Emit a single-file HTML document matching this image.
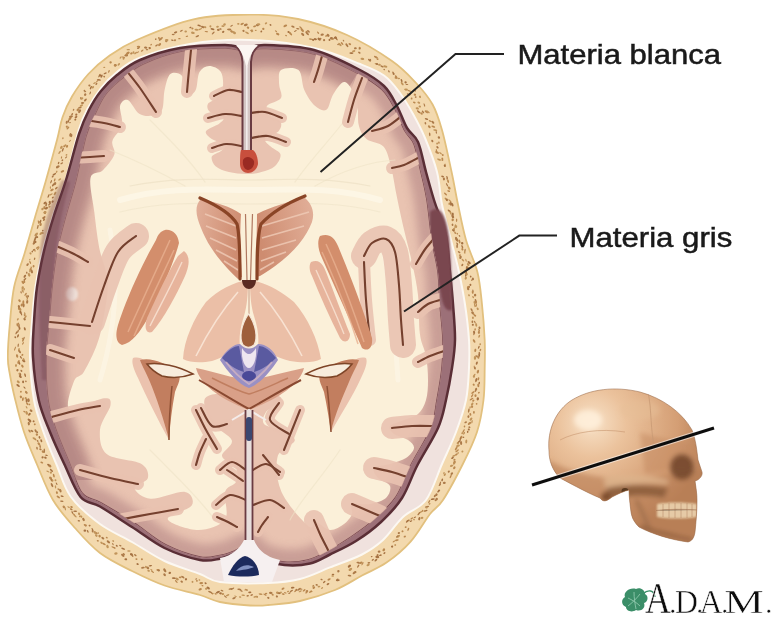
<!DOCTYPE html>
<html><head><meta charset="utf-8">
<style>
html,body{margin:0;padding:0;background:#fff;}
body{width:775px;height:620px;overflow:hidden;position:relative;}
svg{position:absolute;left:0;top:0;}
</style></head>
<body>
<svg width="775" height="620" viewBox="0 0 775 620">
<defs>
<pattern id="speck" width="14" height="10" patternUnits="userSpaceOnUse">
<rect width="14" height="10" fill="#F2D9A6"/>
<ellipse cx="3" cy="3" rx="1.6" ry="1" fill="#B98B4E"/>
<ellipse cx="10" cy="7" rx="1.4" ry="0.9" fill="#C09050"/>
</pattern>
</defs>
<rect width="775" height="620" fill="#fff"/>
<filter id="soft" x="0" y="0" width="100%" height="100%"><feGaussianBlur stdDeviation="0.6"/></filter>
<g filter="url(#soft)">
<path d="M250.0,14.5 C267.4,14.4 281.8,15.6 298.0,19.0 C314.2,22.4 331.3,28.0 347.0,35.0 C362.7,42.0 380.4,52.9 392.0,61.0 C403.6,69.1 409.7,76.2 416.5,83.5 C423.3,90.8 428.4,96.8 432.6,104.5 C436.9,112.2 438.8,118.8 442.0,130.0 C445.2,141.2 448.9,159.6 451.6,172.0 C454.3,184.4 455.6,193.2 458.0,204.5 C460.4,215.8 462.8,228.8 466.0,240.0 C469.2,251.2 474.7,261.2 477.4,272.0 C480.1,282.8 480.8,293.2 482.0,304.5 C483.2,315.8 484.2,329.4 484.7,340.0 C485.1,350.6 484.9,358.0 484.7,368.0 C484.5,378.0 484.8,389.3 483.5,400.0 C482.2,410.7 480.5,421.2 477.0,432.0 C473.5,442.8 468.3,453.2 462.6,464.5 C456.9,475.8 448.4,491.8 443.0,500.0 C437.6,508.2 435.4,507.1 430.0,514.0 C424.6,520.9 417.9,533.5 410.6,541.6 C403.4,549.7 394.6,557.0 386.5,562.6 C378.4,568.2 370.6,570.9 362.0,575.5 C353.4,580.1 345.3,585.8 335.0,590.0 C324.7,594.2 311.2,598.5 300.0,601.0 C288.8,603.5 276.3,604.2 268.0,605.0 C259.7,605.8 258.0,606.0 250.0,605.5 C242.0,605.0 228.3,603.8 220.0,602.0 C211.7,600.2 209.2,597.8 200.0,595.0 C190.8,592.2 175.8,589.5 164.5,585.5 C153.2,581.5 142.8,576.4 132.0,571.0 C121.2,565.6 109.5,560.2 100.0,553.0 C90.5,545.8 82.8,536.8 75.0,528.0 C67.2,519.2 59.3,510.6 53.0,500.0 C46.7,489.4 41.8,475.8 37.0,464.5 C32.2,453.2 27.6,442.8 24.0,432.0 C20.4,421.2 17.6,409.5 15.3,400.0 C13.0,390.5 11.2,382.2 10.0,375.0 C8.8,367.8 7.8,365.8 7.8,357.0 C7.8,348.2 8.9,333.8 10.0,322.0 C11.1,310.2 11.8,297.8 14.2,286.5 C16.6,275.2 20.8,265.8 24.4,254.0 C27.9,242.2 32.0,227.5 35.5,215.5 C39.0,203.5 41.9,194.6 45.5,182.0 C49.1,169.4 54.1,150.8 57.0,140.0 C59.9,129.2 60.1,124.2 62.6,117.0 C65.1,109.8 67.7,103.7 72.0,96.5 C76.3,89.3 82.2,80.8 88.4,74.0 C94.6,67.2 100.9,61.7 109.0,56.0 C117.1,50.3 122.7,46.1 136.8,40.0 C150.9,33.9 174.6,23.6 193.5,19.4 C212.4,15.1 232.6,14.6 250.0,14.5Z" fill="#F3D9AE" stroke="#E2C07E" stroke-width="1.8"/>
<g opacity="0.85"><ellipse cx="471.6" cy="309.7" rx="1.6" ry="0.8" transform="rotate(56 471.6 309.7)" fill="#A06A38"/>
<ellipse cx="472.6" cy="312.7" rx="1.6" ry="1.2" transform="rotate(55 472.6 312.7)" fill="#A06A38"/>
<ellipse cx="473.9" cy="314.4" rx="2.0" ry="0.8" transform="rotate(55 473.9 314.4)" fill="#B07A40"/>
<ellipse cx="475.3" cy="315.8" rx="1.0" ry="0.9" transform="rotate(106 475.3 315.8)" fill="#B07A40"/>
<ellipse cx="472.9" cy="317.7" rx="1.3" ry="1.0" transform="rotate(86 472.9 317.7)" fill="#B8884C"/>
<ellipse cx="472.4" cy="321.8" rx="1.3" ry="0.9" transform="rotate(93 472.4 321.8)" fill="#A06A38"/>
<ellipse cx="474.9" cy="322.2" rx="1.5" ry="0.6" transform="rotate(65 474.9 322.2)" fill="#A06A38"/>
<ellipse cx="476.2" cy="324.9" rx="1.8" ry="1.0" transform="rotate(79 476.2 324.9)" fill="#B8884C"/>
<ellipse cx="472.8" cy="324.8" rx="1.0" ry="1.0" transform="rotate(110 472.8 324.8)" fill="#986030"/>
<ellipse cx="479.5" cy="327.8" rx="1.4" ry="1.0" transform="rotate(77 479.5 327.8)" fill="#A06A38"/>
<ellipse cx="475.1" cy="329.5" rx="1.2" ry="0.8" transform="rotate(94 475.1 329.5)" fill="#B07A40"/>
<ellipse cx="479.1" cy="330.3" rx="1.4" ry="0.8" transform="rotate(68 479.1 330.3)" fill="#B07A40"/>
<ellipse cx="478.9" cy="332.5" rx="1.4" ry="1.1" transform="rotate(89 478.9 332.5)" fill="#B07A40"/>
<ellipse cx="474.1" cy="332.3" rx="1.5" ry="1.0" transform="rotate(74 474.1 332.3)" fill="#986030"/>
<ellipse cx="474.0" cy="333.9" rx="1.3" ry="0.7" transform="rotate(105 474.0 333.9)" fill="#A06A38"/>
<ellipse cx="479.2" cy="336.3" rx="1.6" ry="0.8" transform="rotate(111 479.2 336.3)" fill="#B8884C"/>
<ellipse cx="474.1" cy="341.0" rx="2.0" ry="1.0" transform="rotate(60 474.1 341.0)" fill="#B07A40"/>
<ellipse cx="480.2" cy="344.2" rx="1.0" ry="0.9" transform="rotate(96 480.2 344.2)" fill="#B8884C"/>
<ellipse cx="478.8" cy="347.2" rx="1.6" ry="0.7" transform="rotate(114 478.8 347.2)" fill="#986030"/>
<ellipse cx="480.4" cy="350.0" rx="1.2" ry="0.8" transform="rotate(115 480.4 350.0)" fill="#B07A40"/>
<ellipse cx="475.3" cy="350.3" rx="1.7" ry="1.0" transform="rotate(100 475.3 350.3)" fill="#B07A40"/>
<ellipse cx="479.4" cy="353.4" rx="1.6" ry="0.8" transform="rotate(79 479.4 353.4)" fill="#A06A38"/>
<ellipse cx="479.2" cy="355.2" rx="1.7" ry="0.8" transform="rotate(77 479.2 355.2)" fill="#986030"/>
<ellipse cx="476.2" cy="356.1" rx="1.2" ry="0.7" transform="rotate(80 476.2 356.1)" fill="#A06A38"/>
<ellipse cx="478.2" cy="357.1" rx="1.8" ry="1.1" transform="rotate(68 478.2 357.1)" fill="#B07A40"/>
<ellipse cx="475.0" cy="357.9" rx="1.9" ry="1.2" transform="rotate(88 475.0 357.9)" fill="#B8884C"/>
<ellipse cx="476.8" cy="363.1" rx="1.7" ry="0.9" transform="rotate(112 476.8 363.1)" fill="#986030"/>
<ellipse cx="474.4" cy="367.4" rx="2.0" ry="0.6" transform="rotate(80 474.4 367.4)" fill="#B07A40"/>
<ellipse cx="475.1" cy="368.2" rx="1.4" ry="0.7" transform="rotate(85 475.1 368.2)" fill="#986030"/>
<ellipse cx="477.9" cy="371.6" rx="2.0" ry="1.1" transform="rotate(106 477.9 371.6)" fill="#B07A40"/>
<ellipse cx="474.4" cy="375.1" rx="1.6" ry="0.8" transform="rotate(124 474.4 375.1)" fill="#B8884C"/>
<ellipse cx="473.9" cy="376.5" rx="1.3" ry="1.1" transform="rotate(86 473.9 376.5)" fill="#B8884C"/>
<ellipse cx="478.4" cy="378.9" rx="1.7" ry="0.9" transform="rotate(102 478.4 378.9)" fill="#B07A40"/>
<ellipse cx="476.2" cy="380.1" rx="2.1" ry="1.0" transform="rotate(105 476.2 380.1)" fill="#986030"/>
<ellipse cx="479.2" cy="383.1" rx="1.4" ry="0.8" transform="rotate(103 479.2 383.1)" fill="#986030"/>
<ellipse cx="478.3" cy="385.5" rx="1.8" ry="1.0" transform="rotate(80 478.3 385.5)" fill="#B07A40"/>
<ellipse cx="473.7" cy="384.7" rx="1.0" ry="1.1" transform="rotate(128 473.7 384.7)" fill="#B07A40"/>
<ellipse cx="476.2" cy="389.1" rx="1.3" ry="1.0" transform="rotate(85 476.2 389.1)" fill="#A06A38"/>
<ellipse cx="475.6" cy="390.4" rx="1.6" ry="0.8" transform="rotate(100 475.6 390.4)" fill="#A06A38"/>
<ellipse cx="478.9" cy="392.7" rx="1.0" ry="0.8" transform="rotate(140 478.9 392.7)" fill="#B07A40"/>
<ellipse cx="473.0" cy="392.5" rx="2.0" ry="0.8" transform="rotate(143 473.0 392.5)" fill="#B07A40"/>
<ellipse cx="475.5" cy="395.6" rx="1.3" ry="1.1" transform="rotate(97 475.5 395.6)" fill="#B07A40"/>
<ellipse cx="472.2" cy="395.7" rx="1.9" ry="0.7" transform="rotate(122 472.2 395.7)" fill="#B07A40"/>
<ellipse cx="477.8" cy="398.8" rx="1.6" ry="1.2" transform="rotate(98 477.8 398.8)" fill="#986030"/>
<ellipse cx="471.5" cy="399.1" rx="2.2" ry="0.8" transform="rotate(147 471.5 399.1)" fill="#B07A40"/>
<ellipse cx="473.3" cy="400.6" rx="1.3" ry="0.9" transform="rotate(133 473.3 400.6)" fill="#B07A40"/>
<ellipse cx="476.6" cy="403.8" rx="0.9" ry="0.9" transform="rotate(75 476.6 403.8)" fill="#B07A40"/>
<ellipse cx="472.2" cy="404.1" rx="1.7" ry="1.0" transform="rotate(125 472.2 404.1)" fill="#B8884C"/>
<ellipse cx="472.1" cy="406.8" rx="1.2" ry="1.1" transform="rotate(92 472.1 406.8)" fill="#B07A40"/>
<ellipse cx="470.1" cy="407.4" rx="1.1" ry="0.7" transform="rotate(94 470.1 407.4)" fill="#B8884C"/>
<ellipse cx="473.9" cy="412.4" rx="1.3" ry="0.9" transform="rotate(94 473.9 412.4)" fill="#B07A40"/>
<ellipse cx="468.8" cy="410.5" rx="2.2" ry="0.8" transform="rotate(101 468.8 410.5)" fill="#A06A38"/>
<ellipse cx="470.4" cy="414.4" rx="1.4" ry="0.9" transform="rotate(75 470.4 414.4)" fill="#B07A40"/>
<ellipse cx="468.4" cy="416.6" rx="1.3" ry="1.0" transform="rotate(107 468.4 416.6)" fill="#A06A38"/>
<ellipse cx="471.0" cy="419.1" rx="1.8" ry="1.1" transform="rotate(129 471.0 419.1)" fill="#B8884C"/>
<ellipse cx="472.0" cy="421.7" rx="1.7" ry="0.7" transform="rotate(99 472.0 421.7)" fill="#B8884C"/>
<ellipse cx="469.5" cy="423.4" rx="2.0" ry="1.0" transform="rotate(141 469.5 423.4)" fill="#B07A40"/>
<ellipse cx="465.7" cy="422.3" rx="1.4" ry="0.9" transform="rotate(154 465.7 422.3)" fill="#A06A38"/>
<ellipse cx="469.4" cy="427.2" rx="0.9" ry="1.1" transform="rotate(117 469.4 427.2)" fill="#A06A38"/>
<ellipse cx="464.5" cy="426.4" rx="1.0" ry="0.8" transform="rotate(98 464.5 426.4)" fill="#B07A40"/>
<ellipse cx="468.8" cy="429.5" rx="1.0" ry="1.1" transform="rotate(146 468.8 429.5)" fill="#986030"/>
<ellipse cx="467.7" cy="431.9" rx="1.1" ry="0.8" transform="rotate(85 467.7 431.9)" fill="#986030"/>
<ellipse cx="463.5" cy="431.1" rx="2.2" ry="0.7" transform="rotate(118 463.5 431.1)" fill="#B07A40"/>
<ellipse cx="464.1" cy="433.3" rx="1.5" ry="0.7" transform="rotate(117 464.1 433.3)" fill="#B07A40"/>
<ellipse cx="462.2" cy="433.2" rx="1.0" ry="0.9" transform="rotate(103 462.2 433.2)" fill="#B8884C"/>
<ellipse cx="463.4" cy="437.3" rx="1.0" ry="0.7" transform="rotate(155 463.4 437.3)" fill="#986030"/>
<ellipse cx="461.0" cy="437.6" rx="2.1" ry="1.0" transform="rotate(122 461.0 437.6)" fill="#B07A40"/>
<ellipse cx="466.3" cy="441.5" rx="2.1" ry="1.0" transform="rotate(94 466.3 441.5)" fill="#B8884C"/>
<ellipse cx="460.3" cy="439.3" rx="2.0" ry="0.6" transform="rotate(107 460.3 439.3)" fill="#986030"/>
<ellipse cx="459.1" cy="441.7" rx="2.1" ry="0.8" transform="rotate(139 459.1 441.7)" fill="#986030"/>
<ellipse cx="461.1" cy="443.0" rx="2.1" ry="1.1" transform="rotate(88 461.1 443.0)" fill="#A06A38"/>
<ellipse cx="457.8" cy="443.3" rx="1.1" ry="1.2" transform="rotate(133 457.8 443.3)" fill="#B8884C"/>
<ellipse cx="458.0" cy="445.8" rx="2.0" ry="1.1" transform="rotate(159 458.0 445.8)" fill="#B8884C"/>
<ellipse cx="462.4" cy="451.5" rx="1.0" ry="1.0" transform="rotate(141 462.4 451.5)" fill="#B8884C"/>
<ellipse cx="456.2" cy="448.6" rx="2.1" ry="0.9" transform="rotate(122 456.2 448.6)" fill="#B07A40"/>
<ellipse cx="457.1" cy="450.8" rx="2.2" ry="0.8" transform="rotate(143 457.1 450.8)" fill="#B07A40"/>
<ellipse cx="458.1" cy="453.0" rx="1.1" ry="0.7" transform="rotate(97 458.1 453.0)" fill="#B8884C"/>
<ellipse cx="456.4" cy="454.4" rx="1.5" ry="0.9" transform="rotate(145 456.4 454.4)" fill="#B07A40"/>
<ellipse cx="454.0" cy="455.8" rx="1.9" ry="0.8" transform="rotate(156 454.0 455.8)" fill="#B8884C"/>
<ellipse cx="452.5" cy="457.9" rx="1.5" ry="0.9" transform="rotate(146 452.5 457.9)" fill="#986030"/>
<ellipse cx="454.4" cy="459.7" rx="1.2" ry="0.8" transform="rotate(155 454.4 459.7)" fill="#B07A40"/>
<ellipse cx="454.4" cy="462.4" rx="2.0" ry="1.2" transform="rotate(111 454.4 462.4)" fill="#B07A40"/>
<ellipse cx="454.4" cy="463.5" rx="1.7" ry="0.6" transform="rotate(124 454.4 463.5)" fill="#B8884C"/>
<ellipse cx="454.3" cy="467.8" rx="1.5" ry="1.1" transform="rotate(125 454.3 467.8)" fill="#B07A40"/>
<ellipse cx="451.6" cy="465.8" rx="1.8" ry="1.0" transform="rotate(163 451.6 465.8)" fill="#B8884C"/>
<ellipse cx="451.8" cy="473.6" rx="1.5" ry="1.1" transform="rotate(131 451.8 473.6)" fill="#A06A38"/>
<ellipse cx="448.8" cy="471.6" rx="1.2" ry="1.0" transform="rotate(120 448.8 471.6)" fill="#A06A38"/>
<ellipse cx="450.7" cy="476.4" rx="2.0" ry="0.7" transform="rotate(115 450.7 476.4)" fill="#B07A40"/>
<ellipse cx="443.9" cy="473.0" rx="1.0" ry="0.7" transform="rotate(142 443.9 473.0)" fill="#B8884C"/>
<ellipse cx="444.8" cy="474.6" rx="1.5" ry="1.0" transform="rotate(119 444.8 474.6)" fill="#B8884C"/>
<ellipse cx="442.2" cy="479.9" rx="1.5" ry="0.8" transform="rotate(107 442.2 479.9)" fill="#986030"/>
<ellipse cx="444.3" cy="482.9" rx="1.5" ry="1.1" transform="rotate(163 444.3 482.9)" fill="#A06A38"/>
<ellipse cx="440.1" cy="483.7" rx="2.2" ry="0.7" transform="rotate(109 440.1 483.7)" fill="#A06A38"/>
<ellipse cx="439.8" cy="485.0" rx="1.3" ry="0.7" transform="rotate(149 439.8 485.0)" fill="#A06A38"/>
<ellipse cx="438.7" cy="490.5" rx="1.1" ry="0.6" transform="rotate(120 438.7 490.5)" fill="#986030"/>
<ellipse cx="438.7" cy="491.1" rx="1.9" ry="0.8" transform="rotate(138 438.7 491.1)" fill="#986030"/>
<ellipse cx="436.5" cy="494.7" rx="1.4" ry="1.1" transform="rotate(110 436.5 494.7)" fill="#A06A38"/>
<ellipse cx="434.9" cy="495.9" rx="1.4" ry="0.9" transform="rotate(127 434.9 495.9)" fill="#A06A38"/>
<ellipse cx="436.7" cy="499.0" rx="1.3" ry="1.2" transform="rotate(122 436.7 499.0)" fill="#A06A38"/>
<ellipse cx="435.6" cy="500.3" rx="0.9" ry="1.1" transform="rotate(117 435.6 500.3)" fill="#A06A38"/>
<ellipse cx="432.8" cy="499.1" rx="2.1" ry="0.8" transform="rotate(172 432.8 499.1)" fill="#986030"/>
<ellipse cx="429.2" cy="501.6" rx="1.8" ry="0.7" transform="rotate(121 429.2 501.6)" fill="#B07A40"/>
<ellipse cx="429.6" cy="503.9" rx="1.0" ry="0.7" transform="rotate(159 429.6 503.9)" fill="#B07A40"/>
<ellipse cx="427.0" cy="506.7" rx="2.2" ry="0.8" transform="rotate(168 427.0 506.7)" fill="#A06A38"/>
<ellipse cx="426.7" cy="507.8" rx="1.1" ry="0.7" transform="rotate(176 426.7 507.8)" fill="#B8884C"/>
<ellipse cx="425.9" cy="510.7" rx="1.8" ry="0.7" transform="rotate(166 425.9 510.7)" fill="#986030"/>
<ellipse cx="424.8" cy="511.0" rx="1.2" ry="0.7" transform="rotate(158 424.8 511.0)" fill="#B07A40"/>
<ellipse cx="422.6" cy="510.8" rx="1.0" ry="0.8" transform="rotate(114 422.6 510.8)" fill="#B07A40"/>
<ellipse cx="420.7" cy="512.1" rx="2.2" ry="0.7" transform="rotate(152 420.7 512.1)" fill="#B8884C"/>
<ellipse cx="418.8" cy="513.7" rx="2.0" ry="0.7" transform="rotate(130 418.8 513.7)" fill="#A06A38"/>
<ellipse cx="422.0" cy="517.8" rx="1.4" ry="1.1" transform="rotate(174 422.0 517.8)" fill="#B8884C"/>
<ellipse cx="419.3" cy="518.7" rx="1.7" ry="1.0" transform="rotate(101 419.3 518.7)" fill="#986030"/>
<ellipse cx="415.0" cy="517.3" rx="1.2" ry="0.6" transform="rotate(153 415.0 517.3)" fill="#986030"/>
<ellipse cx="414.0" cy="519.5" rx="0.9" ry="0.9" transform="rotate(108 414.0 519.5)" fill="#B8884C"/>
<ellipse cx="411.9" cy="518.3" rx="1.7" ry="0.7" transform="rotate(146 411.9 518.3)" fill="#B07A40"/>
<ellipse cx="411.0" cy="521.1" rx="1.4" ry="0.6" transform="rotate(156 411.0 521.1)" fill="#986030"/>
<ellipse cx="408.4" cy="520.5" rx="1.7" ry="0.8" transform="rotate(167 408.4 520.5)" fill="#B8884C"/>
<ellipse cx="407.4" cy="521.2" rx="2.0" ry="0.8" transform="rotate(137 407.4 521.2)" fill="#986030"/>
<ellipse cx="408.3" cy="529.3" rx="1.7" ry="0.8" transform="rotate(111 408.3 529.3)" fill="#B07A40"/>
<ellipse cx="405.7" cy="527.1" rx="1.0" ry="0.9" transform="rotate(178 405.7 527.1)" fill="#B07A40"/>
<ellipse cx="402.5" cy="531.3" rx="1.0" ry="1.0" transform="rotate(156 402.5 531.3)" fill="#B07A40"/>
<ellipse cx="404.8" cy="536.6" rx="1.2" ry="0.9" transform="rotate(154 404.8 536.6)" fill="#B07A40"/>
<ellipse cx="398.9" cy="533.0" rx="1.2" ry="1.1" transform="rotate(171 398.9 533.0)" fill="#A06A38"/>
<ellipse cx="398.3" cy="536.3" rx="2.0" ry="1.1" transform="rotate(143 398.3 536.3)" fill="#B8884C"/>
<ellipse cx="397.2" cy="536.4" rx="1.6" ry="0.7" transform="rotate(136 397.2 536.4)" fill="#A06A38"/>
<ellipse cx="396.9" cy="540.2" rx="1.9" ry="0.9" transform="rotate(168 396.9 540.2)" fill="#B07A40"/>
<ellipse cx="394.2" cy="541.3" rx="1.8" ry="0.6" transform="rotate(148 394.2 541.3)" fill="#B07A40"/>
<ellipse cx="395.2" cy="545.1" rx="1.0" ry="0.9" transform="rotate(149 395.2 545.1)" fill="#B8884C"/>
<ellipse cx="392.1" cy="546.6" rx="1.1" ry="1.1" transform="rotate(117 392.1 546.6)" fill="#986030"/>
<ellipse cx="383.8" cy="549.8" rx="1.6" ry="1.2" transform="rotate(122 383.8 549.8)" fill="#B07A40"/>
<ellipse cx="384.4" cy="553.1" rx="1.2" ry="0.8" transform="rotate(140 384.4 553.1)" fill="#986030"/>
<ellipse cx="379.1" cy="551.6" rx="1.4" ry="1.1" transform="rotate(162 379.1 551.6)" fill="#A06A38"/>
<ellipse cx="380.4" cy="555.2" rx="1.4" ry="0.8" transform="rotate(170 380.4 555.2)" fill="#986030"/>
<ellipse cx="377.6" cy="555.2" rx="1.1" ry="1.0" transform="rotate(147 377.6 555.2)" fill="#A06A38"/>
<ellipse cx="377.3" cy="557.0" rx="2.0" ry="1.2" transform="rotate(189 377.3 557.0)" fill="#986030"/>
<ellipse cx="375.9" cy="560.2" rx="1.7" ry="0.9" transform="rotate(136 375.9 560.2)" fill="#986030"/>
<ellipse cx="371.7" cy="556.6" rx="0.9" ry="0.6" transform="rotate(165 371.7 556.6)" fill="#986030"/>
<ellipse cx="372.8" cy="559.8" rx="1.3" ry="0.7" transform="rotate(146 372.8 559.8)" fill="#986030"/>
<ellipse cx="368.9" cy="562.9" rx="1.4" ry="0.8" transform="rotate(177 368.9 562.9)" fill="#A06A38"/>
<ellipse cx="368.1" cy="565.0" rx="1.7" ry="1.0" transform="rotate(162 368.1 565.0)" fill="#B8884C"/>
<ellipse cx="362.5" cy="563.8" rx="1.9" ry="0.6" transform="rotate(120 362.5 563.8)" fill="#B07A40"/>
<ellipse cx="361.0" cy="562.7" rx="1.7" ry="1.1" transform="rotate(156 361.0 562.7)" fill="#B07A40"/>
<ellipse cx="358.2" cy="562.7" rx="1.8" ry="0.9" transform="rotate(196 358.2 562.7)" fill="#A06A38"/>
<ellipse cx="358.2" cy="566.2" rx="1.8" ry="0.7" transform="rotate(123 358.2 566.2)" fill="#A06A38"/>
<ellipse cx="355.6" cy="572.1" rx="1.0" ry="1.0" transform="rotate(139 355.6 572.1)" fill="#B8884C"/>
<ellipse cx="354.4" cy="572.6" rx="2.1" ry="1.1" transform="rotate(141 354.4 572.6)" fill="#A06A38"/>
<ellipse cx="349.4" cy="566.2" rx="1.9" ry="1.2" transform="rotate(137 349.4 566.2)" fill="#986030"/>
<ellipse cx="350.4" cy="569.4" rx="2.0" ry="1.2" transform="rotate(149 350.4 569.4)" fill="#B8884C"/>
<ellipse cx="349.5" cy="575.6" rx="1.9" ry="0.8" transform="rotate(190 349.5 575.6)" fill="#A06A38"/>
<ellipse cx="338.4" cy="571.3" rx="1.2" ry="1.2" transform="rotate(182 338.4 571.3)" fill="#A06A38"/>
<ellipse cx="337.4" cy="579.4" rx="1.2" ry="0.7" transform="rotate(152 337.4 579.4)" fill="#A06A38"/>
<ellipse cx="337.8" cy="580.2" rx="2.0" ry="1.0" transform="rotate(172 337.8 580.2)" fill="#986030"/>
<ellipse cx="333.0" cy="574.5" rx="1.3" ry="0.8" transform="rotate(174 333.0 574.5)" fill="#986030"/>
<ellipse cx="332.7" cy="576.0" rx="1.4" ry="0.8" transform="rotate(179 332.7 576.0)" fill="#B8884C"/>
<ellipse cx="329.1" cy="579.4" rx="1.8" ry="0.9" transform="rotate(151 329.1 579.4)" fill="#B07A40"/>
<ellipse cx="328.0" cy="584.1" rx="1.5" ry="0.9" transform="rotate(147 328.0 584.1)" fill="#986030"/>
<ellipse cx="324.2" cy="582.0" rx="1.5" ry="0.8" transform="rotate(139 324.2 582.0)" fill="#986030"/>
<ellipse cx="321.5" cy="579.5" rx="1.2" ry="0.7" transform="rotate(200 321.5 579.5)" fill="#A06A38"/>
<ellipse cx="322.1" cy="588.0" rx="1.3" ry="0.7" transform="rotate(133 322.1 588.0)" fill="#B8884C"/>
<ellipse cx="319.0" cy="586.6" rx="1.4" ry="0.8" transform="rotate(177 319.0 586.6)" fill="#B8884C"/>
<ellipse cx="316.7" cy="584.9" rx="1.2" ry="0.9" transform="rotate(197 316.7 584.9)" fill="#A06A38"/>
<ellipse cx="313.8" cy="587.6" rx="1.5" ry="1.1" transform="rotate(140 313.8 587.6)" fill="#B07A40"/>
<ellipse cx="313.2" cy="585.8" rx="1.1" ry="0.8" transform="rotate(146 313.2 585.8)" fill="#B07A40"/>
<ellipse cx="311.3" cy="591.6" rx="1.4" ry="0.7" transform="rotate(175 311.3 591.6)" fill="#B07A40"/>
<ellipse cx="310.5" cy="591.6" rx="1.8" ry="0.7" transform="rotate(140 310.5 591.6)" fill="#B07A40"/>
<ellipse cx="306.8" cy="591.1" rx="1.2" ry="1.0" transform="rotate(163 306.8 591.1)" fill="#A06A38"/>
<ellipse cx="306.8" cy="592.0" rx="2.0" ry="0.9" transform="rotate(129 306.8 592.0)" fill="#B07A40"/>
<ellipse cx="304.1" cy="590.3" rx="1.7" ry="0.8" transform="rotate(140 304.1 590.3)" fill="#B07A40"/>
<ellipse cx="301.1" cy="589.1" rx="1.4" ry="0.7" transform="rotate(189 301.1 589.1)" fill="#B07A40"/>
<ellipse cx="300.2" cy="591.3" rx="1.7" ry="0.7" transform="rotate(154 300.2 591.3)" fill="#B8884C"/>
<ellipse cx="299.1" cy="589.3" rx="2.0" ry="0.9" transform="rotate(142 299.1 589.3)" fill="#A06A38"/>
<ellipse cx="296.5" cy="589.9" rx="1.1" ry="1.0" transform="rotate(204 296.5 589.9)" fill="#A06A38"/>
<ellipse cx="295.4" cy="590.9" rx="1.6" ry="0.7" transform="rotate(133 295.4 590.9)" fill="#B07A40"/>
<ellipse cx="292.7" cy="587.7" rx="1.8" ry="0.9" transform="rotate(174 292.7 587.7)" fill="#986030"/>
<ellipse cx="291.4" cy="590.9" rx="1.8" ry="0.8" transform="rotate(148 291.4 590.9)" fill="#A06A38"/>
<ellipse cx="289.5" cy="593.1" rx="1.4" ry="0.6" transform="rotate(152 289.5 593.1)" fill="#A06A38"/>
<ellipse cx="288.1" cy="591.5" rx="1.2" ry="0.7" transform="rotate(160 288.1 591.5)" fill="#B8884C"/>
<ellipse cx="285.3" cy="592.8" rx="1.4" ry="0.7" transform="rotate(196 285.3 592.8)" fill="#B07A40"/>
<ellipse cx="283.0" cy="588.7" rx="1.7" ry="1.0" transform="rotate(148 283.0 588.7)" fill="#B07A40"/>
<ellipse cx="283.2" cy="594.1" rx="1.5" ry="0.8" transform="rotate(198 283.2 594.1)" fill="#B07A40"/>
<ellipse cx="280.3" cy="592.8" rx="1.8" ry="1.0" transform="rotate(152 280.3 592.8)" fill="#B8884C"/>
<ellipse cx="278.7" cy="593.1" rx="1.4" ry="1.0" transform="rotate(198 278.7 593.1)" fill="#986030"/>
<ellipse cx="277.4" cy="592.7" rx="1.4" ry="1.2" transform="rotate(187 277.4 592.7)" fill="#B8884C"/>
<ellipse cx="276.9" cy="596.5" rx="1.1" ry="1.1" transform="rotate(197 276.9 596.5)" fill="#A06A38"/>
<ellipse cx="272.6" cy="594.7" rx="1.1" ry="0.9" transform="rotate(203 272.6 594.7)" fill="#B07A40"/>
<ellipse cx="270.8" cy="592.9" rx="1.8" ry="1.2" transform="rotate(184 270.8 592.9)" fill="#A06A38"/>
<ellipse cx="268.3" cy="597.8" rx="1.2" ry="1.0" transform="rotate(203 268.3 597.8)" fill="#A06A38"/>
<ellipse cx="266.1" cy="593.5" rx="1.2" ry="0.7" transform="rotate(181 266.1 593.5)" fill="#B07A40"/>
<ellipse cx="265.0" cy="594.7" rx="1.8" ry="0.7" transform="rotate(209 265.0 594.7)" fill="#B07A40"/>
<ellipse cx="260.5" cy="594.1" rx="2.0" ry="0.8" transform="rotate(191 260.5 594.1)" fill="#B8884C"/>
<ellipse cx="257.1" cy="596.8" rx="1.0" ry="0.9" transform="rotate(203 257.1 596.8)" fill="#B07A40"/>
<ellipse cx="255.3" cy="596.7" rx="2.0" ry="0.8" transform="rotate(165 255.3 596.7)" fill="#B8884C"/>
<ellipse cx="251.7" cy="595.0" rx="1.3" ry="0.8" transform="rotate(162 251.7 595.0)" fill="#A06A38"/>
<ellipse cx="249.8" cy="592.4" rx="1.6" ry="0.8" transform="rotate(172 249.8 592.4)" fill="#986030"/>
<ellipse cx="247.7" cy="595.8" rx="1.3" ry="0.8" transform="rotate(166 247.7 595.8)" fill="#A06A38"/>
<ellipse cx="246.4" cy="589.8" rx="1.6" ry="0.6" transform="rotate(211 246.4 589.8)" fill="#986030"/>
<ellipse cx="246.1" cy="589.9" rx="1.9" ry="0.6" transform="rotate(178 246.1 589.9)" fill="#B8884C"/>
<ellipse cx="243.1" cy="595.3" rx="1.8" ry="0.7" transform="rotate(188 243.1 595.3)" fill="#B8884C"/>
<ellipse cx="241.4" cy="590.9" rx="1.4" ry="0.7" transform="rotate(211 241.4 590.9)" fill="#A06A38"/>
<ellipse cx="240.1" cy="597.0" rx="1.2" ry="0.8" transform="rotate(186 240.1 597.0)" fill="#B8884C"/>
<ellipse cx="239.3" cy="589.4" rx="2.1" ry="0.9" transform="rotate(188 239.3 589.4)" fill="#A06A38"/>
<ellipse cx="235.5" cy="596.2" rx="1.4" ry="0.6" transform="rotate(198 235.5 596.2)" fill="#B8884C"/>
<ellipse cx="234.1" cy="598.1" rx="1.9" ry="0.9" transform="rotate(155 234.1 598.1)" fill="#A06A38"/>
<ellipse cx="232.3" cy="588.8" rx="2.2" ry="0.7" transform="rotate(153 232.3 588.8)" fill="#A06A38"/>
<ellipse cx="230.3" cy="588.8" rx="1.9" ry="0.7" transform="rotate(163 230.3 588.8)" fill="#A06A38"/>
<ellipse cx="227.6" cy="595.2" rx="1.9" ry="0.8" transform="rotate(155 227.6 595.2)" fill="#B8884C"/>
<ellipse cx="225.4" cy="596.6" rx="1.8" ry="0.6" transform="rotate(221 225.4 596.6)" fill="#A06A38"/>
<ellipse cx="222.9" cy="594.1" rx="1.3" ry="1.0" transform="rotate(176 222.9 594.1)" fill="#B8884C"/>
<ellipse cx="222.0" cy="590.6" rx="1.5" ry="0.7" transform="rotate(203 222.0 590.6)" fill="#A06A38"/>
<ellipse cx="220.5" cy="593.3" rx="1.4" ry="1.1" transform="rotate(179 220.5 593.3)" fill="#986030"/>
<ellipse cx="217.9" cy="592.1" rx="2.2" ry="1.0" transform="rotate(151 217.9 592.1)" fill="#986030"/>
<ellipse cx="215.6" cy="593.8" rx="1.2" ry="0.8" transform="rotate(224 215.6 593.8)" fill="#B8884C"/>
<ellipse cx="212.8" cy="593.5" rx="0.9" ry="0.8" transform="rotate(170 212.8 593.5)" fill="#B8884C"/>
<ellipse cx="212.0" cy="593.4" rx="1.3" ry="0.7" transform="rotate(210 212.0 593.4)" fill="#B07A40"/>
<ellipse cx="210.1" cy="592.0" rx="2.1" ry="0.8" transform="rotate(202 210.1 592.0)" fill="#A06A38"/>
<ellipse cx="208.2" cy="588.0" rx="1.8" ry="1.2" transform="rotate(211 208.2 588.0)" fill="#986030"/>
<ellipse cx="206.2" cy="588.8" rx="1.2" ry="1.1" transform="rotate(165 206.2 588.8)" fill="#B8884C"/>
<ellipse cx="205.6" cy="583.2" rx="1.2" ry="0.9" transform="rotate(210 205.6 583.2)" fill="#986030"/>
<ellipse cx="202.5" cy="585.7" rx="1.1" ry="0.7" transform="rotate(196 202.5 585.7)" fill="#B07A40"/>
<ellipse cx="201.3" cy="583.1" rx="1.9" ry="1.1" transform="rotate(178 201.3 583.1)" fill="#B07A40"/>
<ellipse cx="200.2" cy="589.3" rx="1.7" ry="1.1" transform="rotate(158 200.2 589.3)" fill="#B07A40"/>
<ellipse cx="199.4" cy="580.0" rx="1.0" ry="0.7" transform="rotate(199 199.4 580.0)" fill="#B8884C"/>
<ellipse cx="196.9" cy="580.9" rx="1.0" ry="0.9" transform="rotate(173 196.9 580.9)" fill="#B07A40"/>
<ellipse cx="196.2" cy="579.0" rx="1.0" ry="0.6" transform="rotate(165 196.2 579.0)" fill="#986030"/>
<ellipse cx="192.5" cy="581.9" rx="1.0" ry="1.0" transform="rotate(224 192.5 581.9)" fill="#B8884C"/>
<ellipse cx="186.0" cy="579.2" rx="1.1" ry="1.2" transform="rotate(210 186.0 579.2)" fill="#986030"/>
<ellipse cx="182.8" cy="577.1" rx="1.9" ry="0.9" transform="rotate(213 182.8 577.1)" fill="#A06A38"/>
<ellipse cx="181.7" cy="581.7" rx="1.3" ry="1.0" transform="rotate(208 181.7 581.7)" fill="#A06A38"/>
<ellipse cx="180.2" cy="577.4" rx="1.4" ry="0.9" transform="rotate(184 180.2 577.4)" fill="#B07A40"/>
<ellipse cx="176.3" cy="581.5" rx="1.9" ry="0.7" transform="rotate(228 176.3 581.5)" fill="#B07A40"/>
<ellipse cx="177.1" cy="579.0" rx="1.9" ry="1.2" transform="rotate(214 177.1 579.0)" fill="#B8884C"/>
<ellipse cx="173.8" cy="578.1" rx="2.0" ry="0.9" transform="rotate(182 173.8 578.1)" fill="#986030"/>
<ellipse cx="169.8" cy="572.9" rx="1.3" ry="1.1" transform="rotate(169 169.8 572.9)" fill="#986030"/>
<ellipse cx="164.6" cy="574.8" rx="1.6" ry="1.1" transform="rotate(231 164.6 574.8)" fill="#A06A38"/>
<ellipse cx="164.8" cy="570.3" rx="2.2" ry="1.2" transform="rotate(237 164.8 570.3)" fill="#A06A38"/>
<ellipse cx="158.5" cy="570.2" rx="1.5" ry="1.1" transform="rotate(200 158.5 570.2)" fill="#986030"/>
<ellipse cx="157.9" cy="569.8" rx="1.6" ry="0.7" transform="rotate(176 157.9 569.8)" fill="#B07A40"/>
<ellipse cx="152.5" cy="571.7" rx="1.9" ry="0.7" transform="rotate(218 152.5 571.7)" fill="#B07A40"/>
<ellipse cx="151.4" cy="569.7" rx="1.2" ry="0.6" transform="rotate(207 151.4 569.7)" fill="#B8884C"/>
<ellipse cx="148.6" cy="570.8" rx="1.3" ry="1.0" transform="rotate(188 148.6 570.8)" fill="#B8884C"/>
<ellipse cx="150.4" cy="565.8" rx="1.8" ry="0.7" transform="rotate(171 150.4 565.8)" fill="#986030"/>
<ellipse cx="147.9" cy="567.9" rx="1.4" ry="1.2" transform="rotate(230 147.9 567.9)" fill="#A06A38"/>
<ellipse cx="146.1" cy="567.1" rx="1.3" ry="1.0" transform="rotate(231 146.1 567.1)" fill="#B8884C"/>
<ellipse cx="142.9" cy="567.7" rx="1.9" ry="0.9" transform="rotate(171 142.9 567.7)" fill="#A06A38"/>
<ellipse cx="141.9" cy="559.2" rx="1.0" ry="1.0" transform="rotate(165 141.9 559.2)" fill="#B07A40"/>
<ellipse cx="137.6" cy="564.1" rx="1.2" ry="0.9" transform="rotate(200 137.6 564.1)" fill="#986030"/>
<ellipse cx="136.4" cy="559.1" rx="1.1" ry="0.8" transform="rotate(186 136.4 559.1)" fill="#B07A40"/>
<ellipse cx="135.3" cy="555.1" rx="1.5" ry="0.8" transform="rotate(218 135.3 555.1)" fill="#A06A38"/>
<ellipse cx="132.3" cy="555.5" rx="1.6" ry="0.8" transform="rotate(232 132.3 555.5)" fill="#A06A38"/>
<ellipse cx="131.4" cy="554.3" rx="1.5" ry="1.2" transform="rotate(192 131.4 554.3)" fill="#986030"/>
<ellipse cx="125.8" cy="559.3" rx="1.4" ry="1.0" transform="rotate(186 125.8 559.3)" fill="#986030"/>
<ellipse cx="128.9" cy="551.0" rx="1.8" ry="0.7" transform="rotate(182 128.9 551.0)" fill="#B8884C"/>
<ellipse cx="122.8" cy="555.3" rx="2.0" ry="1.1" transform="rotate(218 122.8 555.3)" fill="#A06A38"/>
<ellipse cx="123.8" cy="554.1" rx="1.3" ry="0.9" transform="rotate(221 123.8 554.1)" fill="#A06A38"/>
<ellipse cx="123.2" cy="548.7" rx="2.1" ry="0.8" transform="rotate(202 123.2 548.7)" fill="#986030"/>
<ellipse cx="115.9" cy="553.5" rx="1.7" ry="1.2" transform="rotate(175 115.9 553.5)" fill="#B8884C"/>
<ellipse cx="120.3" cy="545.6" rx="1.3" ry="0.7" transform="rotate(201 120.3 545.6)" fill="#A06A38"/>
<ellipse cx="116.8" cy="545.8" rx="1.2" ry="0.8" transform="rotate(224 116.8 545.8)" fill="#986030"/>
<ellipse cx="114.4" cy="547.8" rx="1.3" ry="0.7" transform="rotate(207 114.4 547.8)" fill="#B07A40"/>
<ellipse cx="113.4" cy="547.3" rx="2.1" ry="0.7" transform="rotate(201 113.4 547.3)" fill="#B07A40"/>
<ellipse cx="112.9" cy="544.1" rx="1.2" ry="0.6" transform="rotate(240 112.9 544.1)" fill="#A06A38"/>
<ellipse cx="113.2" cy="541.0" rx="1.0" ry="0.8" transform="rotate(205 113.2 541.0)" fill="#B8884C"/>
<ellipse cx="107.5" cy="546.6" rx="1.8" ry="1.2" transform="rotate(250 107.5 546.6)" fill="#B8884C"/>
<ellipse cx="108.4" cy="541.8" rx="2.0" ry="1.1" transform="rotate(220 108.4 541.8)" fill="#A06A38"/>
<ellipse cx="104.0" cy="544.0" rx="1.9" ry="1.0" transform="rotate(209 104.0 544.0)" fill="#B07A40"/>
<ellipse cx="106.8" cy="537.6" rx="1.1" ry="0.8" transform="rotate(216 106.8 537.6)" fill="#B07A40"/>
<ellipse cx="101.5" cy="542.8" rx="1.4" ry="0.9" transform="rotate(221 101.5 542.8)" fill="#B8884C"/>
<ellipse cx="102.8" cy="538.1" rx="1.7" ry="1.0" transform="rotate(214 102.8 538.1)" fill="#A06A38"/>
<ellipse cx="97.8" cy="540.8" rx="1.1" ry="0.8" transform="rotate(208 97.8 540.8)" fill="#B07A40"/>
<ellipse cx="99.6" cy="536.1" rx="1.3" ry="1.2" transform="rotate(239 99.6 536.1)" fill="#B07A40"/>
<ellipse cx="98.3" cy="533.0" rx="0.9" ry="0.6" transform="rotate(247 98.3 533.0)" fill="#B8884C"/>
<ellipse cx="96.3" cy="535.5" rx="1.5" ry="1.1" transform="rotate(223 96.3 535.5)" fill="#B8884C"/>
<ellipse cx="95.8" cy="532.9" rx="2.1" ry="1.0" transform="rotate(202 95.8 532.9)" fill="#B07A40"/>
<ellipse cx="94.9" cy="532.3" rx="1.6" ry="1.1" transform="rotate(219 94.9 532.3)" fill="#B8884C"/>
<ellipse cx="92.6" cy="531.2" rx="1.3" ry="0.9" transform="rotate(255 92.6 531.2)" fill="#A06A38"/>
<ellipse cx="92.5" cy="529.5" rx="1.6" ry="0.7" transform="rotate(241 92.5 529.5)" fill="#986030"/>
<ellipse cx="87.8" cy="531.4" rx="1.4" ry="0.7" transform="rotate(247 87.8 531.4)" fill="#986030"/>
<ellipse cx="89.6" cy="525.6" rx="1.0" ry="0.9" transform="rotate(209 89.6 525.6)" fill="#A06A38"/>
<ellipse cx="84.9" cy="530.7" rx="1.4" ry="1.1" transform="rotate(180 84.9 530.7)" fill="#986030"/>
<ellipse cx="85.4" cy="525.8" rx="1.0" ry="0.6" transform="rotate(209 85.4 525.8)" fill="#A06A38"/>
<ellipse cx="85.3" cy="525.1" rx="1.7" ry="0.9" transform="rotate(198 85.3 525.1)" fill="#B07A40"/>
<ellipse cx="83.5" cy="519.5" rx="1.7" ry="1.1" transform="rotate(244 83.5 519.5)" fill="#A06A38"/>
<ellipse cx="78.8" cy="520.8" rx="1.2" ry="0.8" transform="rotate(190 78.8 520.8)" fill="#A06A38"/>
<ellipse cx="81.2" cy="516.5" rx="1.4" ry="0.9" transform="rotate(225 81.2 516.5)" fill="#B8884C"/>
<ellipse cx="79.7" cy="516.4" rx="1.0" ry="0.6" transform="rotate(240 79.7 516.4)" fill="#B07A40"/>
<ellipse cx="79.1" cy="513.8" rx="1.3" ry="1.1" transform="rotate(248 79.1 513.8)" fill="#B8884C"/>
<ellipse cx="75.0" cy="515.9" rx="2.1" ry="0.7" transform="rotate(220 75.0 515.9)" fill="#B8884C"/>
<ellipse cx="73.4" cy="514.0" rx="1.8" ry="0.6" transform="rotate(212 73.4 514.0)" fill="#B07A40"/>
<ellipse cx="75.2" cy="511.2" rx="2.0" ry="0.8" transform="rotate(181 75.2 511.2)" fill="#986030"/>
<ellipse cx="72.2" cy="512.1" rx="1.0" ry="0.7" transform="rotate(213 72.2 512.1)" fill="#986030"/>
<ellipse cx="71.2" cy="509.3" rx="1.5" ry="0.8" transform="rotate(209 71.2 509.3)" fill="#A06A38"/>
<ellipse cx="71.5" cy="507.0" rx="1.3" ry="1.1" transform="rotate(189 71.5 507.0)" fill="#B07A40"/>
<ellipse cx="68.6" cy="507.1" rx="1.4" ry="0.7" transform="rotate(201 68.6 507.1)" fill="#B8884C"/>
<ellipse cx="65.3" cy="508.9" rx="1.6" ry="0.7" transform="rotate(258 65.3 508.9)" fill="#B8884C"/>
<ellipse cx="63.9" cy="506.9" rx="1.5" ry="1.2" transform="rotate(231 63.9 506.9)" fill="#B07A40"/>
<ellipse cx="61.7" cy="501.3" rx="1.8" ry="0.7" transform="rotate(186 61.7 501.3)" fill="#A06A38"/>
<ellipse cx="62.1" cy="496.2" rx="1.6" ry="0.8" transform="rotate(194 62.1 496.2)" fill="#986030"/>
<ellipse cx="58.3" cy="497.0" rx="2.0" ry="0.9" transform="rotate(214 58.3 497.0)" fill="#B07A40"/>
<ellipse cx="60.4" cy="490.7" rx="1.8" ry="1.1" transform="rotate(250 60.4 490.7)" fill="#A06A38"/>
<ellipse cx="56.9" cy="492.6" rx="1.4" ry="1.0" transform="rotate(254 56.9 492.6)" fill="#B07A40"/>
<ellipse cx="59.0" cy="489.4" rx="1.8" ry="0.8" transform="rotate(204 59.0 489.4)" fill="#B07A40"/>
<ellipse cx="55.5" cy="486.9" rx="1.6" ry="0.7" transform="rotate(263 55.5 486.9)" fill="#B8884C"/>
<ellipse cx="56.6" cy="483.7" rx="1.4" ry="0.6" transform="rotate(242 56.6 483.7)" fill="#986030"/>
<ellipse cx="52.0" cy="485.1" rx="2.2" ry="1.0" transform="rotate(244 52.0 485.1)" fill="#A06A38"/>
<ellipse cx="55.5" cy="480.2" rx="1.0" ry="1.0" transform="rotate(248 55.5 480.2)" fill="#B8884C"/>
<ellipse cx="52.2" cy="480.4" rx="1.4" ry="1.2" transform="rotate(231 52.2 480.4)" fill="#B8884C"/>
<ellipse cx="51.2" cy="479.3" rx="1.7" ry="0.9" transform="rotate(256 51.2 479.3)" fill="#A06A38"/>
<ellipse cx="53.8" cy="475.6" rx="1.9" ry="0.9" transform="rotate(257 53.8 475.6)" fill="#B07A40"/>
<ellipse cx="50.5" cy="478.0" rx="1.6" ry="1.2" transform="rotate(210 50.5 478.0)" fill="#B07A40"/>
<ellipse cx="50.9" cy="472.6" rx="1.1" ry="1.0" transform="rotate(215 50.9 472.6)" fill="#B8884C"/>
<ellipse cx="51.4" cy="470.4" rx="2.1" ry="0.8" transform="rotate(226 51.4 470.4)" fill="#986030"/>
<ellipse cx="47.9" cy="471.5" rx="1.7" ry="0.7" transform="rotate(210 47.9 471.5)" fill="#B8884C"/>
<ellipse cx="50.2" cy="466.0" rx="1.5" ry="1.1" transform="rotate(239 50.2 466.0)" fill="#B07A40"/>
<ellipse cx="49.3" cy="466.3" rx="1.0" ry="0.8" transform="rotate(208 49.3 466.3)" fill="#B07A40"/>
<ellipse cx="48.5" cy="464.9" rx="1.5" ry="0.9" transform="rotate(205 48.5 464.9)" fill="#986030"/>
<ellipse cx="41.8" cy="462.5" rx="1.5" ry="0.9" transform="rotate(202 41.8 462.5)" fill="#B07A40"/>
<ellipse cx="45.4" cy="457.7" rx="1.3" ry="1.0" transform="rotate(201 45.4 457.7)" fill="#986030"/>
<ellipse cx="46.5" cy="455.3" rx="1.4" ry="0.7" transform="rotate(196 46.5 455.3)" fill="#986030"/>
<ellipse cx="42.6" cy="457.4" rx="1.1" ry="1.1" transform="rotate(268 42.6 457.4)" fill="#986030"/>
<ellipse cx="42.9" cy="451.7" rx="1.4" ry="1.1" transform="rotate(239 42.9 451.7)" fill="#B07A40"/>
<ellipse cx="44.3" cy="450.7" rx="2.2" ry="0.8" transform="rotate(269 44.3 450.7)" fill="#A06A38"/>
<ellipse cx="40.4" cy="449.3" rx="1.3" ry="0.9" transform="rotate(209 40.4 449.3)" fill="#A06A38"/>
<ellipse cx="40.1" cy="446.5" rx="1.5" ry="0.7" transform="rotate(265 40.1 446.5)" fill="#986030"/>
<ellipse cx="37.0" cy="448.2" rx="1.5" ry="0.8" transform="rotate(260 37.0 448.2)" fill="#A06A38"/>
<ellipse cx="38.9" cy="443.9" rx="1.8" ry="1.1" transform="rotate(232 38.9 443.9)" fill="#B07A40"/>
<ellipse cx="41.3" cy="440.8" rx="1.6" ry="0.9" transform="rotate(252 41.3 440.8)" fill="#986030"/>
<ellipse cx="37.7" cy="441.0" rx="1.1" ry="0.8" transform="rotate(248 37.7 441.0)" fill="#A06A38"/>
<ellipse cx="39.5" cy="437.4" rx="1.3" ry="0.9" transform="rotate(247 39.5 437.4)" fill="#986030"/>
<ellipse cx="35.1" cy="439.0" rx="2.1" ry="0.6" transform="rotate(226 35.1 439.0)" fill="#B07A40"/>
<ellipse cx="34.0" cy="438.4" rx="1.7" ry="0.9" transform="rotate(211 34.0 438.4)" fill="#B8884C"/>
<ellipse cx="36.9" cy="434.6" rx="1.2" ry="1.2" transform="rotate(220 36.9 434.6)" fill="#B07A40"/>
<ellipse cx="37.2" cy="432.2" rx="1.0" ry="0.9" transform="rotate(220 37.2 432.2)" fill="#986030"/>
<ellipse cx="35.7" cy="430.9" rx="1.8" ry="1.0" transform="rotate(244 35.7 430.9)" fill="#A06A38"/>
<ellipse cx="31.9" cy="431.0" rx="1.6" ry="0.9" transform="rotate(211 31.9 431.0)" fill="#A06A38"/>
<ellipse cx="29.5" cy="431.1" rx="1.8" ry="0.9" transform="rotate(238 29.5 431.1)" fill="#B07A40"/>
<ellipse cx="34.8" cy="424.3" rx="0.9" ry="1.0" transform="rotate(231 34.8 424.3)" fill="#B07A40"/>
<ellipse cx="33.6" cy="421.3" rx="1.0" ry="1.0" transform="rotate(219 33.6 421.3)" fill="#986030"/>
<ellipse cx="28.8" cy="423.6" rx="1.8" ry="1.1" transform="rotate(264 28.8 423.6)" fill="#A06A38"/>
<ellipse cx="30.0" cy="421.1" rx="1.5" ry="1.1" transform="rotate(231 30.0 421.1)" fill="#986030"/>
<ellipse cx="29.4" cy="420.1" rx="2.1" ry="1.0" transform="rotate(212 29.4 420.1)" fill="#986030"/>
<ellipse cx="28.8" cy="415.0" rx="1.0" ry="0.8" transform="rotate(243 28.8 415.0)" fill="#B07A40"/>
<ellipse cx="29.7" cy="413.8" rx="1.1" ry="1.1" transform="rotate(235 29.7 413.8)" fill="#986030"/>
<ellipse cx="31.1" cy="410.6" rx="1.6" ry="1.1" transform="rotate(217 31.1 410.6)" fill="#A06A38"/>
<ellipse cx="26.7" cy="412.9" rx="2.0" ry="1.2" transform="rotate(253 26.7 412.9)" fill="#B8884C"/>
<ellipse cx="24.4" cy="411.6" rx="1.3" ry="0.7" transform="rotate(212 24.4 411.6)" fill="#B07A40"/>
<ellipse cx="26.6" cy="407.3" rx="1.4" ry="0.6" transform="rotate(237 26.6 407.3)" fill="#B8884C"/>
<ellipse cx="29.6" cy="404.4" rx="1.0" ry="0.7" transform="rotate(285 29.6 404.4)" fill="#B07A40"/>
<ellipse cx="27.4" cy="403.9" rx="1.6" ry="0.9" transform="rotate(228 27.4 403.9)" fill="#B07A40"/>
<ellipse cx="28.6" cy="400.2" rx="2.0" ry="1.1" transform="rotate(269 28.6 400.2)" fill="#A06A38"/>
<ellipse cx="26.7" cy="400.7" rx="2.1" ry="1.0" transform="rotate(277 26.7 400.7)" fill="#986030"/>
<ellipse cx="25.7" cy="398.3" rx="1.2" ry="1.1" transform="rotate(277 25.7 398.3)" fill="#B8884C"/>
<ellipse cx="22.9" cy="399.1" rx="1.9" ry="0.9" transform="rotate(279 22.9 399.1)" fill="#B07A40"/>
<ellipse cx="20.9" cy="396.9" rx="1.4" ry="1.1" transform="rotate(241 20.9 396.9)" fill="#B07A40"/>
<ellipse cx="26.3" cy="392.4" rx="1.6" ry="1.0" transform="rotate(230 26.3 392.4)" fill="#986030"/>
<ellipse cx="25.9" cy="392.0" rx="1.3" ry="0.8" transform="rotate(256 25.9 392.0)" fill="#B8884C"/>
<ellipse cx="20.9" cy="391.7" rx="1.0" ry="0.9" transform="rotate(280 20.9 391.7)" fill="#B07A40"/>
<ellipse cx="24.5" cy="387.6" rx="1.4" ry="0.7" transform="rotate(228 24.5 387.6)" fill="#986030"/>
<ellipse cx="18.1" cy="385.5" rx="2.0" ry="1.1" transform="rotate(218 18.1 385.5)" fill="#986030"/>
<ellipse cx="25.9" cy="381.4" rx="0.9" ry="0.8" transform="rotate(263 25.9 381.4)" fill="#A06A38"/>
<ellipse cx="23.1" cy="381.8" rx="1.4" ry="1.0" transform="rotate(264 23.1 381.8)" fill="#986030"/>
<ellipse cx="18.3" cy="381.8" rx="1.7" ry="1.1" transform="rotate(220 18.3 381.8)" fill="#B8884C"/>
<ellipse cx="20.3" cy="376.6" rx="1.7" ry="1.0" transform="rotate(218 20.3 376.6)" fill="#986030"/>
<ellipse cx="25.1" cy="375.1" rx="2.0" ry="0.8" transform="rotate(256 25.1 375.1)" fill="#986030"/>
<ellipse cx="20.2" cy="374.5" rx="1.8" ry="1.0" transform="rotate(259 20.2 374.5)" fill="#986030"/>
<ellipse cx="19.4" cy="373.6" rx="0.9" ry="1.0" transform="rotate(253 19.4 373.6)" fill="#B8884C"/>
<ellipse cx="21.4" cy="370.8" rx="1.2" ry="0.9" transform="rotate(237 21.4 370.8)" fill="#A06A38"/>
<ellipse cx="17.4" cy="370.2" rx="1.2" ry="1.1" transform="rotate(294 17.4 370.2)" fill="#A06A38"/>
<ellipse cx="22.4" cy="366.1" rx="1.7" ry="1.0" transform="rotate(237 22.4 366.1)" fill="#B07A40"/>
<ellipse cx="16.0" cy="365.5" rx="1.4" ry="1.0" transform="rotate(259 16.0 365.5)" fill="#B8884C"/>
<ellipse cx="19.2" cy="363.0" rx="1.9" ry="0.9" transform="rotate(244 19.2 363.0)" fill="#986030"/>
<ellipse cx="23.7" cy="360.8" rx="1.9" ry="1.1" transform="rotate(218 23.7 360.8)" fill="#986030"/>
<ellipse cx="18.5" cy="361.9" rx="2.1" ry="1.0" transform="rotate(291 18.5 361.9)" fill="#B07A40"/>
<ellipse cx="23.7" cy="359.3" rx="1.4" ry="0.8" transform="rotate(237 23.7 359.3)" fill="#B8884C"/>
<ellipse cx="20.9" cy="357.3" rx="1.6" ry="0.7" transform="rotate(236 20.9 357.3)" fill="#986030"/>
<ellipse cx="22.4" cy="354.9" rx="0.9" ry="1.1" transform="rotate(226 22.4 354.9)" fill="#B07A40"/>
<ellipse cx="17.1" cy="356.0" rx="1.7" ry="1.1" transform="rotate(255 17.1 356.0)" fill="#B07A40"/>
<ellipse cx="19.5" cy="351.4" rx="2.1" ry="1.0" transform="rotate(231 19.5 351.4)" fill="#A06A38"/>
<ellipse cx="19.0" cy="349.4" rx="1.5" ry="0.8" transform="rotate(280 19.0 349.4)" fill="#B8884C"/>
<ellipse cx="15.0" cy="348.6" rx="2.2" ry="0.6" transform="rotate(291 15.0 348.6)" fill="#B07A40"/>
<ellipse cx="18.2" cy="345.4" rx="1.8" ry="0.6" transform="rotate(277 18.2 345.4)" fill="#986030"/>
<ellipse cx="23.0" cy="343.4" rx="1.6" ry="0.6" transform="rotate(299 23.0 343.4)" fill="#B07A40"/>
<ellipse cx="22.8" cy="340.8" rx="1.0" ry="0.8" transform="rotate(262 22.8 340.8)" fill="#B8884C"/>
<ellipse cx="23.7" cy="338.8" rx="2.2" ry="0.7" transform="rotate(291 23.7 338.8)" fill="#A06A38"/>
<ellipse cx="22.7" cy="338.7" rx="1.0" ry="0.9" transform="rotate(228 22.7 338.7)" fill="#B8884C"/>
<ellipse cx="15.3" cy="337.2" rx="1.0" ry="0.9" transform="rotate(249 15.3 337.2)" fill="#986030"/>
<ellipse cx="18.0" cy="335.9" rx="1.8" ry="0.8" transform="rotate(293 18.0 335.9)" fill="#986030"/>
<ellipse cx="16.4" cy="332.8" rx="1.7" ry="0.7" transform="rotate(296 16.4 332.8)" fill="#986030"/>
<ellipse cx="18.0" cy="331.3" rx="1.8" ry="0.7" transform="rotate(291 18.0 331.3)" fill="#A06A38"/>
<ellipse cx="24.8" cy="328.9" rx="1.7" ry="0.9" transform="rotate(251 24.8 328.9)" fill="#986030"/>
<ellipse cx="19.7" cy="328.7" rx="1.5" ry="0.8" transform="rotate(277 19.7 328.7)" fill="#B8884C"/>
<ellipse cx="19.3" cy="327.7" rx="1.8" ry="0.8" transform="rotate(256 19.3 327.7)" fill="#986030"/>
<ellipse cx="19.0" cy="325.6" rx="1.6" ry="0.7" transform="rotate(276 19.0 325.6)" fill="#986030"/>
<ellipse cx="17.4" cy="324.9" rx="1.7" ry="0.9" transform="rotate(254 17.4 324.9)" fill="#B07A40"/>
<ellipse cx="18.4" cy="323.7" rx="1.1" ry="0.8" transform="rotate(243 18.4 323.7)" fill="#B07A40"/>
<ellipse cx="17.8" cy="319.3" rx="1.3" ry="0.8" transform="rotate(301 17.8 319.3)" fill="#B8884C"/>
<ellipse cx="24.6" cy="319.1" rx="1.4" ry="1.1" transform="rotate(236 24.6 319.1)" fill="#986030"/>
<ellipse cx="25.4" cy="317.0" rx="1.8" ry="0.9" transform="rotate(308 25.4 317.0)" fill="#B8884C"/>
<ellipse cx="24.7" cy="315.2" rx="1.1" ry="0.9" transform="rotate(229 24.7 315.2)" fill="#B07A40"/>
<ellipse cx="21.4" cy="314.0" rx="1.6" ry="0.6" transform="rotate(249 21.4 314.0)" fill="#986030"/>
<ellipse cx="24.8" cy="313.6" rx="1.3" ry="0.7" transform="rotate(251 24.8 313.6)" fill="#B8884C"/>
<ellipse cx="20.5" cy="312.2" rx="1.5" ry="1.1" transform="rotate(246 20.5 312.2)" fill="#986030"/>
<ellipse cx="20.0" cy="309.2" rx="1.9" ry="1.2" transform="rotate(234 20.0 309.2)" fill="#B8884C"/>
<ellipse cx="19.1" cy="308.3" rx="1.7" ry="1.2" transform="rotate(261 19.1 308.3)" fill="#B07A40"/>
<ellipse cx="18.9" cy="306.3" rx="1.2" ry="1.1" transform="rotate(236 18.9 306.3)" fill="#A06A38"/>
<ellipse cx="23.6" cy="305.3" rx="2.1" ry="1.1" transform="rotate(271 23.6 305.3)" fill="#A06A38"/>
<ellipse cx="21.8" cy="305.0" rx="1.5" ry="1.2" transform="rotate(287 21.8 305.0)" fill="#B07A40"/>
<ellipse cx="23.3" cy="302.3" rx="2.0" ry="1.0" transform="rotate(273 23.3 302.3)" fill="#B07A40"/>
<ellipse cx="27.2" cy="301.9" rx="1.9" ry="1.1" transform="rotate(276 27.2 301.9)" fill="#A06A38"/>
<ellipse cx="19.5" cy="300.7" rx="1.5" ry="1.1" transform="rotate(234 19.5 300.7)" fill="#B07A40"/>
<ellipse cx="27.3" cy="298.8" rx="1.5" ry="0.6" transform="rotate(290 27.3 298.8)" fill="#B8884C"/>
<ellipse cx="26.8" cy="296.9" rx="1.7" ry="0.8" transform="rotate(237 26.8 296.9)" fill="#B07A40"/>
<ellipse cx="28.1" cy="296.2" rx="1.2" ry="0.8" transform="rotate(256 28.1 296.2)" fill="#986030"/>
<ellipse cx="25.6" cy="294.4" rx="1.8" ry="0.8" transform="rotate(305 25.6 294.4)" fill="#B07A40"/>
<ellipse cx="21.1" cy="292.3" rx="1.2" ry="0.6" transform="rotate(255 21.1 292.3)" fill="#986030"/>
<ellipse cx="22.7" cy="290.9" rx="2.1" ry="0.8" transform="rotate(246 22.7 290.9)" fill="#B8884C"/>
<ellipse cx="24.1" cy="289.3" rx="1.3" ry="0.8" transform="rotate(281 24.1 289.3)" fill="#B8884C"/>
<ellipse cx="22.7" cy="287.8" rx="1.5" ry="1.2" transform="rotate(283 22.7 287.8)" fill="#B8884C"/>
<ellipse cx="22.8" cy="282.4" rx="1.8" ry="1.0" transform="rotate(238 22.8 282.4)" fill="#B07A40"/>
<ellipse cx="24.2" cy="281.9" rx="1.2" ry="1.1" transform="rotate(261 24.2 281.9)" fill="#B07A40"/>
<ellipse cx="24.3" cy="279.9" rx="1.2" ry="0.7" transform="rotate(275 24.3 279.9)" fill="#A06A38"/>
<ellipse cx="25.0" cy="279.3" rx="1.8" ry="0.7" transform="rotate(310 25.0 279.3)" fill="#A06A38"/>
<ellipse cx="24.8" cy="276.3" rx="1.8" ry="1.0" transform="rotate(302 24.8 276.3)" fill="#986030"/>
<ellipse cx="29.1" cy="274.8" rx="1.9" ry="1.2" transform="rotate(251 29.1 274.8)" fill="#B8884C"/>
<ellipse cx="26.8" cy="272.7" rx="1.1" ry="0.7" transform="rotate(255 26.8 272.7)" fill="#986030"/>
<ellipse cx="31.7" cy="271.4" rx="2.1" ry="1.2" transform="rotate(250 31.7 271.4)" fill="#A06A38"/>
<ellipse cx="30.0" cy="270.4" rx="2.1" ry="0.7" transform="rotate(280 30.0 270.4)" fill="#B8884C"/>
<ellipse cx="30.7" cy="269.1" rx="1.2" ry="0.9" transform="rotate(301 30.7 269.1)" fill="#B07A40"/>
<ellipse cx="31.2" cy="267.3" rx="0.9" ry="0.7" transform="rotate(249 31.2 267.3)" fill="#B07A40"/>
<ellipse cx="33.6" cy="266.2" rx="1.2" ry="1.0" transform="rotate(278 33.6 266.2)" fill="#B07A40"/>
<ellipse cx="27.6" cy="264.6" rx="1.5" ry="1.0" transform="rotate(300 27.6 264.6)" fill="#A06A38"/>
<ellipse cx="30.2" cy="262.4" rx="1.6" ry="0.7" transform="rotate(245 30.2 262.4)" fill="#B07A40"/>
<ellipse cx="29.8" cy="259.6" rx="1.0" ry="0.6" transform="rotate(296 29.8 259.6)" fill="#B8884C"/>
<ellipse cx="34.6" cy="258.8" rx="1.3" ry="0.7" transform="rotate(287 34.6 258.8)" fill="#A06A38"/>
<ellipse cx="30.5" cy="253.4" rx="0.9" ry="1.2" transform="rotate(316 30.5 253.4)" fill="#B8884C"/>
<ellipse cx="32.3" cy="251.5" rx="1.0" ry="0.7" transform="rotate(305 32.3 251.5)" fill="#986030"/>
<ellipse cx="34.8" cy="250.3" rx="1.6" ry="0.7" transform="rotate(254 34.8 250.3)" fill="#B07A40"/>
<ellipse cx="33.6" cy="249.9" rx="1.0" ry="0.7" transform="rotate(303 33.6 249.9)" fill="#986030"/>
<ellipse cx="38.2" cy="248.4" rx="2.0" ry="0.8" transform="rotate(302 38.2 248.4)" fill="#B8884C"/>
<ellipse cx="37.3" cy="247.5" rx="1.9" ry="0.6" transform="rotate(321 37.3 247.5)" fill="#B07A40"/>
<ellipse cx="34.1" cy="243.2" rx="1.8" ry="1.0" transform="rotate(321 34.1 243.2)" fill="#A06A38"/>
<ellipse cx="34.4" cy="241.5" rx="1.9" ry="1.1" transform="rotate(288 34.4 241.5)" fill="#A06A38"/>
<ellipse cx="35.6" cy="241.9" rx="1.0" ry="1.0" transform="rotate(311 35.6 241.9)" fill="#986030"/>
<ellipse cx="34.9" cy="239.4" rx="1.5" ry="0.8" transform="rotate(310 34.9 239.4)" fill="#986030"/>
<ellipse cx="35.8" cy="237.7" rx="1.7" ry="0.9" transform="rotate(313 35.8 237.7)" fill="#986030"/>
<ellipse cx="37.2" cy="237.0" rx="1.0" ry="1.1" transform="rotate(300 37.2 237.0)" fill="#986030"/>
<ellipse cx="35.8" cy="235.0" rx="1.6" ry="1.1" transform="rotate(297 35.8 235.0)" fill="#A06A38"/>
<ellipse cx="36.5" cy="234.4" rx="2.1" ry="1.1" transform="rotate(304 36.5 234.4)" fill="#B8884C"/>
<ellipse cx="40.9" cy="233.5" rx="1.8" ry="1.1" transform="rotate(314 40.9 233.5)" fill="#B8884C"/>
<ellipse cx="42.7" cy="233.0" rx="1.0" ry="1.1" transform="rotate(252 42.7 233.0)" fill="#B8884C"/>
<ellipse cx="42.8" cy="230.6" rx="0.9" ry="0.8" transform="rotate(289 42.8 230.6)" fill="#986030"/>
<ellipse cx="37.6" cy="227.7" rx="1.2" ry="0.7" transform="rotate(295 37.6 227.7)" fill="#A06A38"/>
<ellipse cx="38.0" cy="226.0" rx="1.1" ry="0.7" transform="rotate(279 38.0 226.0)" fill="#986030"/>
<ellipse cx="40.6" cy="224.5" rx="1.5" ry="1.2" transform="rotate(284 40.6 224.5)" fill="#B07A40"/>
<ellipse cx="38.6" cy="222.2" rx="2.0" ry="0.7" transform="rotate(254 38.6 222.2)" fill="#B07A40"/>
<ellipse cx="39.9" cy="222.0" rx="1.0" ry="0.9" transform="rotate(281 39.9 222.0)" fill="#B8884C"/>
<ellipse cx="40.5" cy="221.4" rx="1.6" ry="0.8" transform="rotate(287 40.5 221.4)" fill="#986030"/>
<ellipse cx="44.0" cy="219.7" rx="1.4" ry="0.9" transform="rotate(305 44.0 219.7)" fill="#A06A38"/>
<ellipse cx="43.4" cy="218.1" rx="1.0" ry="1.1" transform="rotate(332 43.4 218.1)" fill="#A06A38"/>
<ellipse cx="44.0" cy="217.5" rx="1.8" ry="1.0" transform="rotate(326 44.0 217.5)" fill="#A06A38"/>
<ellipse cx="45.0" cy="212.6" rx="1.7" ry="1.2" transform="rotate(270 45.0 212.6)" fill="#B07A40"/>
<ellipse cx="44.9" cy="212.2" rx="1.7" ry="1.1" transform="rotate(334 44.9 212.2)" fill="#B8884C"/>
<ellipse cx="42.5" cy="209.0" rx="1.3" ry="1.1" transform="rotate(329 42.5 209.0)" fill="#B8884C"/>
<ellipse cx="44.4" cy="207.7" rx="1.6" ry="1.1" transform="rotate(268 44.4 207.7)" fill="#B07A40"/>
<ellipse cx="46.4" cy="208.2" rx="1.7" ry="1.2" transform="rotate(330 46.4 208.2)" fill="#986030"/>
<ellipse cx="49.4" cy="206.8" rx="1.2" ry="0.8" transform="rotate(333 49.4 206.8)" fill="#B8884C"/>
<ellipse cx="46.2" cy="204.7" rx="1.9" ry="0.9" transform="rotate(283 46.2 204.7)" fill="#A06A38"/>
<ellipse cx="45.0" cy="202.9" rx="1.7" ry="1.1" transform="rotate(325 45.0 202.9)" fill="#986030"/>
<ellipse cx="49.6" cy="204.0" rx="2.0" ry="0.8" transform="rotate(311 49.6 204.0)" fill="#A06A38"/>
<ellipse cx="49.7" cy="202.0" rx="1.3" ry="1.0" transform="rotate(301 49.7 202.0)" fill="#986030"/>
<ellipse cx="52.6" cy="201.6" rx="1.3" ry="1.0" transform="rotate(315 52.6 201.6)" fill="#986030"/>
<ellipse cx="48.5" cy="195.9" rx="2.0" ry="0.7" transform="rotate(293 48.5 195.9)" fill="#986030"/>
<ellipse cx="52.8" cy="197.5" rx="1.1" ry="0.8" transform="rotate(319 52.8 197.5)" fill="#986030"/>
<ellipse cx="51.1" cy="194.4" rx="1.8" ry="0.7" transform="rotate(330 51.1 194.4)" fill="#B8884C"/>
<ellipse cx="55.0" cy="193.5" rx="2.0" ry="1.0" transform="rotate(301 55.0 193.5)" fill="#B8884C"/>
<ellipse cx="52.0" cy="189.9" rx="1.9" ry="1.1" transform="rotate(329 52.0 189.9)" fill="#B07A40"/>
<ellipse cx="50.4" cy="187.6" rx="1.3" ry="0.6" transform="rotate(272 50.4 187.6)" fill="#B8884C"/>
<ellipse cx="56.3" cy="188.2" rx="1.7" ry="0.8" transform="rotate(319 56.3 188.2)" fill="#A06A38"/>
<ellipse cx="53.4" cy="184.8" rx="2.1" ry="0.8" transform="rotate(311 53.4 184.8)" fill="#986030"/>
<ellipse cx="51.1" cy="181.8" rx="1.8" ry="0.6" transform="rotate(292 51.1 181.8)" fill="#986030"/>
<ellipse cx="55.0" cy="183.6" rx="1.6" ry="1.2" transform="rotate(299 55.0 183.6)" fill="#A06A38"/>
<ellipse cx="54.7" cy="179.9" rx="1.6" ry="0.7" transform="rotate(291 54.7 179.9)" fill="#B07A40"/>
<ellipse cx="52.7" cy="176.6" rx="1.2" ry="0.7" transform="rotate(322 52.7 176.6)" fill="#986030"/>
<ellipse cx="59.7" cy="179.4" rx="1.7" ry="0.8" transform="rotate(323 59.7 179.4)" fill="#B8884C"/>
<ellipse cx="54.3" cy="174.3" rx="2.1" ry="0.8" transform="rotate(329 54.3 174.3)" fill="#986030"/>
<ellipse cx="56.6" cy="171.8" rx="1.3" ry="0.7" transform="rotate(302 56.6 171.8)" fill="#B8884C"/>
<ellipse cx="62.4" cy="171.4" rx="1.9" ry="1.1" transform="rotate(330 62.4 171.4)" fill="#B07A40"/>
<ellipse cx="57.8" cy="166.8" rx="2.1" ry="1.2" transform="rotate(327 57.8 166.8)" fill="#A06A38"/>
<ellipse cx="58.6" cy="163.0" rx="1.4" ry="0.7" transform="rotate(289 58.6 163.0)" fill="#986030"/>
<ellipse cx="61.7" cy="163.3" rx="1.5" ry="0.7" transform="rotate(333 61.7 163.3)" fill="#A06A38"/>
<ellipse cx="62.4" cy="160.3" rx="1.0" ry="0.8" transform="rotate(308 62.4 160.3)" fill="#986030"/>
<ellipse cx="61.5" cy="157.5" rx="1.2" ry="0.6" transform="rotate(286 61.5 157.5)" fill="#B07A40"/>
<ellipse cx="59.6" cy="152.4" rx="1.9" ry="0.8" transform="rotate(305 59.6 152.4)" fill="#B8884C"/>
<ellipse cx="66.1" cy="157.4" rx="1.4" ry="0.6" transform="rotate(317 66.1 157.4)" fill="#A06A38"/>
<ellipse cx="66.5" cy="154.9" rx="1.0" ry="0.8" transform="rotate(313 66.5 154.9)" fill="#B8884C"/>
<ellipse cx="62.8" cy="149.7" rx="2.1" ry="0.8" transform="rotate(291 62.8 149.7)" fill="#A06A38"/>
<ellipse cx="61.4" cy="147.4" rx="1.6" ry="1.2" transform="rotate(306 61.4 147.4)" fill="#B8884C"/>
<ellipse cx="64.3" cy="146.2" rx="1.1" ry="1.0" transform="rotate(341 64.3 146.2)" fill="#B07A40"/>
<ellipse cx="65.4" cy="145.2" rx="1.1" ry="0.9" transform="rotate(321 65.4 145.2)" fill="#B8884C"/>
<ellipse cx="67.0" cy="146.4" rx="1.4" ry="1.1" transform="rotate(291 67.0 146.4)" fill="#B07A40"/>
<ellipse cx="62.9" cy="138.2" rx="1.0" ry="0.7" transform="rotate(276 62.9 138.2)" fill="#B07A40"/>
<ellipse cx="70.0" cy="140.9" rx="1.4" ry="0.6" transform="rotate(320 70.0 140.9)" fill="#B8884C"/>
<ellipse cx="70.4" cy="134.8" rx="1.9" ry="1.1" transform="rotate(283 70.4 134.8)" fill="#A06A38"/>
<ellipse cx="71.4" cy="135.6" rx="1.6" ry="1.0" transform="rotate(282 71.4 135.6)" fill="#A06A38"/>
<ellipse cx="67.9" cy="128.0" rx="1.8" ry="0.9" transform="rotate(312 67.9 128.0)" fill="#B07A40"/>
<ellipse cx="66.8" cy="126.6" rx="1.1" ry="1.0" transform="rotate(312 66.8 126.6)" fill="#B07A40"/>
<ellipse cx="66.7" cy="122.3" rx="1.6" ry="1.0" transform="rotate(283 66.7 122.3)" fill="#A06A38"/>
<ellipse cx="68.3" cy="121.3" rx="1.4" ry="0.8" transform="rotate(285 68.3 121.3)" fill="#986030"/>
<ellipse cx="70.0" cy="122.6" rx="0.9" ry="0.6" transform="rotate(338 70.0 122.6)" fill="#A06A38"/>
<ellipse cx="70.0" cy="118.5" rx="2.2" ry="1.2" transform="rotate(308 70.0 118.5)" fill="#B07A40"/>
<ellipse cx="71.0" cy="116.5" rx="2.0" ry="1.0" transform="rotate(351 71.0 116.5)" fill="#A06A38"/>
<ellipse cx="75.3" cy="119.6" rx="1.0" ry="1.0" transform="rotate(342 75.3 119.6)" fill="#986030"/>
<ellipse cx="72.1" cy="114.3" rx="1.4" ry="0.8" transform="rotate(302 72.1 114.3)" fill="#A06A38"/>
<ellipse cx="76.0" cy="117.1" rx="1.5" ry="1.0" transform="rotate(331 76.0 117.1)" fill="#986030"/>
<ellipse cx="76.3" cy="114.6" rx="1.2" ry="1.1" transform="rotate(281 76.3 114.6)" fill="#986030"/>
<ellipse cx="73.5" cy="109.8" rx="1.0" ry="0.7" transform="rotate(307 73.5 109.8)" fill="#A06A38"/>
<ellipse cx="77.9" cy="109.7" rx="1.6" ry="1.2" transform="rotate(309 77.9 109.7)" fill="#B07A40"/>
<ellipse cx="79.6" cy="111.2" rx="2.1" ry="1.2" transform="rotate(300 79.6 111.2)" fill="#A06A38"/>
<ellipse cx="79.9" cy="107.6" rx="1.8" ry="0.9" transform="rotate(351 79.9 107.6)" fill="#A06A38"/>
<ellipse cx="81.4" cy="105.6" rx="1.8" ry="1.0" transform="rotate(336 81.4 105.6)" fill="#B8884C"/>
<ellipse cx="82.6" cy="102.9" rx="1.7" ry="1.0" transform="rotate(359 82.6 102.9)" fill="#A06A38"/>
<ellipse cx="80.7" cy="98.0" rx="1.0" ry="0.6" transform="rotate(287 80.7 98.0)" fill="#986030"/>
<ellipse cx="81.8" cy="98.5" rx="1.6" ry="1.1" transform="rotate(334 81.8 98.5)" fill="#B8884C"/>
<ellipse cx="85.4" cy="100.0" rx="1.8" ry="0.9" transform="rotate(315 85.4 100.0)" fill="#A06A38"/>
<ellipse cx="85.2" cy="94.6" rx="1.4" ry="1.1" transform="rotate(300 85.2 94.6)" fill="#A06A38"/>
<ellipse cx="84.3" cy="90.6" rx="0.9" ry="0.7" transform="rotate(306 84.3 90.6)" fill="#A06A38"/>
<ellipse cx="85.2" cy="91.5" rx="1.1" ry="0.7" transform="rotate(336 85.2 91.5)" fill="#A06A38"/>
<ellipse cx="90.2" cy="93.0" rx="1.7" ry="0.6" transform="rotate(291 90.2 93.0)" fill="#986030"/>
<ellipse cx="90.9" cy="87.7" rx="1.9" ry="0.8" transform="rotate(296 90.9 87.7)" fill="#986030"/>
<ellipse cx="89.4" cy="85.5" rx="1.1" ry="1.1" transform="rotate(358 89.4 85.5)" fill="#A06A38"/>
<ellipse cx="92.9" cy="87.3" rx="1.4" ry="1.0" transform="rotate(316 92.9 87.3)" fill="#B8884C"/>
<ellipse cx="94.5" cy="83.0" rx="1.5" ry="0.7" transform="rotate(324 94.5 83.0)" fill="#B8884C"/>
<ellipse cx="96.4" cy="83.9" rx="1.2" ry="0.9" transform="rotate(300 96.4 83.9)" fill="#A06A38"/>
<ellipse cx="97.0" cy="81.3" rx="1.3" ry="0.6" transform="rotate(306 97.0 81.3)" fill="#B07A40"/>
<ellipse cx="98.9" cy="79.9" rx="2.1" ry="0.8" transform="rotate(367 98.9 79.9)" fill="#A06A38"/>
<ellipse cx="99.4" cy="75.6" rx="2.0" ry="0.7" transform="rotate(301 99.4 75.6)" fill="#A06A38"/>
<ellipse cx="100.2" cy="75.5" rx="1.1" ry="1.1" transform="rotate(351 100.2 75.5)" fill="#986030"/>
<ellipse cx="101.6" cy="76.1" rx="1.8" ry="0.9" transform="rotate(294 101.6 76.1)" fill="#986030"/>
<ellipse cx="104.2" cy="76.6" rx="0.9" ry="0.9" transform="rotate(330 104.2 76.6)" fill="#A06A38"/>
<ellipse cx="105.1" cy="73.3" rx="1.7" ry="0.7" transform="rotate(337 105.1 73.3)" fill="#986030"/>
<ellipse cx="104.2" cy="67.4" rx="1.1" ry="0.7" transform="rotate(362 104.2 67.4)" fill="#B8884C"/>
<ellipse cx="108.9" cy="71.4" rx="1.5" ry="0.7" transform="rotate(293 108.9 71.4)" fill="#B07A40"/>
<ellipse cx="110.6" cy="62.4" rx="1.2" ry="1.1" transform="rotate(345 110.6 62.4)" fill="#B07A40"/>
<ellipse cx="115.2" cy="65.2" rx="1.2" ry="1.2" transform="rotate(328 115.2 65.2)" fill="#986030"/>
<ellipse cx="115.3" cy="65.4" rx="1.6" ry="1.1" transform="rotate(348 115.3 65.4)" fill="#B07A40"/>
<ellipse cx="118.8" cy="64.4" rx="1.5" ry="0.9" transform="rotate(313 118.8 64.4)" fill="#B8884C"/>
<ellipse cx="120.5" cy="57.7" rx="1.2" ry="0.7" transform="rotate(298 120.5 57.7)" fill="#B8884C"/>
<ellipse cx="123.6" cy="58.6" rx="1.1" ry="1.0" transform="rotate(312 123.6 58.6)" fill="#B8884C"/>
<ellipse cx="123.1" cy="57.2" rx="2.1" ry="0.6" transform="rotate(371 123.1 57.2)" fill="#B07A40"/>
<ellipse cx="126.2" cy="55.5" rx="1.9" ry="1.0" transform="rotate(363 126.2 55.5)" fill="#A06A38"/>
<ellipse cx="126.6" cy="54.5" rx="1.4" ry="0.9" transform="rotate(349 126.6 54.5)" fill="#B07A40"/>
<ellipse cx="127.9" cy="53.0" rx="2.0" ry="1.2" transform="rotate(326 127.9 53.0)" fill="#B07A40"/>
<ellipse cx="128.3" cy="49.7" rx="1.8" ry="0.6" transform="rotate(361 128.3 49.7)" fill="#B8884C"/>
<ellipse cx="131.4" cy="53.4" rx="1.3" ry="1.1" transform="rotate(331 131.4 53.4)" fill="#B07A40"/>
<ellipse cx="133.5" cy="52.5" rx="1.0" ry="1.2" transform="rotate(374 133.5 52.5)" fill="#B8884C"/>
<ellipse cx="135.6" cy="53.1" rx="1.8" ry="0.8" transform="rotate(326 135.6 53.1)" fill="#B8884C"/>
<ellipse cx="138.0" cy="52.2" rx="1.2" ry="0.6" transform="rotate(314 138.0 52.2)" fill="#B07A40"/>
<ellipse cx="138.4" cy="47.9" rx="1.5" ry="0.8" transform="rotate(335 138.4 47.9)" fill="#986030"/>
<ellipse cx="138.5" cy="46.7" rx="1.8" ry="1.0" transform="rotate(363 138.5 46.7)" fill="#B07A40"/>
<ellipse cx="142.2" cy="50.6" rx="1.6" ry="0.7" transform="rotate(321 142.2 50.6)" fill="#B07A40"/>
<ellipse cx="145.7" cy="47.7" rx="1.7" ry="1.1" transform="rotate(365 145.7 47.7)" fill="#A06A38"/>
<ellipse cx="147.0" cy="49.7" rx="1.3" ry="0.6" transform="rotate(357 147.0 49.7)" fill="#A06A38"/>
<ellipse cx="149.8" cy="48.1" rx="1.1" ry="1.1" transform="rotate(314 149.8 48.1)" fill="#B07A40"/>
<ellipse cx="149.6" cy="47.9" rx="1.1" ry="0.8" transform="rotate(377 149.6 47.9)" fill="#986030"/>
<ellipse cx="151.1" cy="44.7" rx="1.0" ry="0.7" transform="rotate(321 151.1 44.7)" fill="#B07A40"/>
<ellipse cx="156.6" cy="45.3" rx="1.6" ry="0.7" transform="rotate(327 156.6 45.3)" fill="#A06A38"/>
<ellipse cx="155.8" cy="39.2" rx="0.9" ry="0.8" transform="rotate(325 155.8 39.2)" fill="#A06A38"/>
<ellipse cx="159.6" cy="44.6" rx="1.8" ry="1.1" transform="rotate(317 159.6 44.6)" fill="#B07A40"/>
<ellipse cx="159.0" cy="38.2" rx="0.9" ry="1.2" transform="rotate(337 159.0 38.2)" fill="#B07A40"/>
<ellipse cx="160.1" cy="39.6" rx="1.5" ry="0.9" transform="rotate(323 160.1 39.6)" fill="#A06A38"/>
<ellipse cx="161.4" cy="38.3" rx="1.7" ry="1.0" transform="rotate(326 161.4 38.3)" fill="#B07A40"/>
<ellipse cx="166.3" cy="41.5" rx="1.2" ry="0.7" transform="rotate(356 166.3 41.5)" fill="#B07A40"/>
<ellipse cx="166.7" cy="40.1" rx="1.8" ry="1.1" transform="rotate(358 166.7 40.1)" fill="#B8884C"/>
<ellipse cx="172.3" cy="40.2" rx="1.5" ry="0.7" transform="rotate(375 172.3 40.2)" fill="#A06A38"/>
<ellipse cx="173.2" cy="34.5" rx="1.5" ry="0.8" transform="rotate(360 173.2 34.5)" fill="#A06A38"/>
<ellipse cx="175.0" cy="40.2" rx="1.2" ry="1.0" transform="rotate(344 175.0 40.2)" fill="#B07A40"/>
<ellipse cx="175.6" cy="32.4" rx="1.8" ry="0.9" transform="rotate(339 175.6 32.4)" fill="#986030"/>
<ellipse cx="179.4" cy="38.7" rx="1.3" ry="0.6" transform="rotate(357 179.4 38.7)" fill="#B07A40"/>
<ellipse cx="181.3" cy="30.8" rx="1.6" ry="0.7" transform="rotate(334 181.3 30.8)" fill="#A06A38"/>
<ellipse cx="185.7" cy="31.5" rx="1.3" ry="1.1" transform="rotate(364 185.7 31.5)" fill="#B8884C"/>
<ellipse cx="186.9" cy="36.3" rx="1.3" ry="0.7" transform="rotate(342 186.9 36.3)" fill="#B07A40"/>
<ellipse cx="190.5" cy="27.5" rx="1.2" ry="0.7" transform="rotate(340 190.5 27.5)" fill="#986030"/>
<ellipse cx="192.9" cy="32.8" rx="1.9" ry="1.1" transform="rotate(372 192.9 32.8)" fill="#B8884C"/>
<ellipse cx="192.4" cy="28.5" rx="1.2" ry="0.9" transform="rotate(329 192.4 28.5)" fill="#B07A40"/>
<ellipse cx="196.5" cy="29.8" rx="2.0" ry="1.0" transform="rotate(368 196.5 29.8)" fill="#B8884C"/>
<ellipse cx="197.3" cy="36.2" rx="1.9" ry="0.8" transform="rotate(337 197.3 36.2)" fill="#A06A38"/>
<ellipse cx="199.2" cy="25.6" rx="2.0" ry="0.8" transform="rotate(378 199.2 25.6)" fill="#986030"/>
<ellipse cx="200.2" cy="29.1" rx="2.1" ry="0.6" transform="rotate(333 200.2 29.1)" fill="#B8884C"/>
<ellipse cx="202.8" cy="27.0" rx="2.0" ry="1.0" transform="rotate(384 202.8 27.0)" fill="#A06A38"/>
<ellipse cx="205.2" cy="27.1" rx="1.2" ry="1.0" transform="rotate(377 205.2 27.1)" fill="#B8884C"/>
<ellipse cx="206.3" cy="31.6" rx="1.8" ry="0.6" transform="rotate(369 206.3 31.6)" fill="#B07A40"/>
<ellipse cx="210.4" cy="26.3" rx="1.0" ry="1.1" transform="rotate(365 210.4 26.3)" fill="#B8884C"/>
<ellipse cx="212.5" cy="29.1" rx="2.0" ry="1.0" transform="rotate(373 212.5 29.1)" fill="#986030"/>
<ellipse cx="213.2" cy="33.1" rx="1.9" ry="0.7" transform="rotate(315 213.2 33.1)" fill="#A06A38"/>
<ellipse cx="217.5" cy="26.7" rx="1.4" ry="1.0" transform="rotate(352 217.5 26.7)" fill="#B8884C"/>
<ellipse cx="218.3" cy="29.9" rx="1.4" ry="1.1" transform="rotate(373 218.3 29.9)" fill="#A06A38"/>
<ellipse cx="220.4" cy="29.0" rx="1.2" ry="0.8" transform="rotate(368 220.4 29.0)" fill="#986030"/>
<ellipse cx="222.9" cy="26.1" rx="1.6" ry="0.9" transform="rotate(368 222.9 26.1)" fill="#B8884C"/>
<ellipse cx="223.2" cy="31.9" rx="1.3" ry="0.9" transform="rotate(330 223.2 31.9)" fill="#986030"/>
<ellipse cx="224.5" cy="24.5" rx="1.4" ry="1.2" transform="rotate(320 224.5 24.5)" fill="#B8884C"/>
<ellipse cx="229.2" cy="29.5" rx="2.2" ry="0.9" transform="rotate(358 229.2 29.5)" fill="#A06A38"/>
<ellipse cx="231.6" cy="31.4" rx="1.6" ry="1.1" transform="rotate(397 231.6 31.4)" fill="#B07A40"/>
<ellipse cx="231.6" cy="25.8" rx="1.6" ry="0.6" transform="rotate(326 231.6 25.8)" fill="#A06A38"/>
<ellipse cx="234.1" cy="32.6" rx="2.1" ry="1.2" transform="rotate(389 234.1 32.6)" fill="#B8884C"/>
<ellipse cx="238.3" cy="23.9" rx="1.2" ry="0.8" transform="rotate(366 238.3 23.9)" fill="#B8884C"/>
<ellipse cx="242.2" cy="23.9" rx="1.9" ry="0.9" transform="rotate(332 242.2 23.9)" fill="#B07A40"/>
<ellipse cx="243.5" cy="30.8" rx="1.2" ry="1.0" transform="rotate(392 243.5 30.8)" fill="#A06A38"/>
<ellipse cx="245.8" cy="24.8" rx="2.0" ry="1.2" transform="rotate(342 245.8 24.8)" fill="#A06A38"/>
<ellipse cx="247.0" cy="32.8" rx="2.1" ry="0.9" transform="rotate(389 247.0 32.8)" fill="#B8884C"/>
<ellipse cx="248.0" cy="27.7" rx="1.3" ry="1.1" transform="rotate(400 248.0 27.7)" fill="#B07A40"/>
<ellipse cx="251.6" cy="30.3" rx="1.5" ry="0.8" transform="rotate(349 251.6 30.3)" fill="#B07A40"/>
<ellipse cx="252.1" cy="31.3" rx="1.3" ry="0.9" transform="rotate(331 252.1 31.3)" fill="#B8884C"/>
<ellipse cx="254.7" cy="26.3" rx="1.6" ry="0.9" transform="rotate(344 254.7 26.3)" fill="#B07A40"/>
<ellipse cx="255.8" cy="30.4" rx="1.0" ry="0.7" transform="rotate(352 255.8 30.4)" fill="#B8884C"/>
<ellipse cx="257.4" cy="25.1" rx="1.5" ry="1.1" transform="rotate(374 257.4 25.1)" fill="#A06A38"/>
<ellipse cx="258.5" cy="24.3" rx="1.8" ry="1.0" transform="rotate(363 258.5 24.3)" fill="#B8884C"/>
<ellipse cx="261.3" cy="31.5" rx="0.9" ry="1.0" transform="rotate(383 261.3 31.5)" fill="#986030"/>
<ellipse cx="263.3" cy="28.9" rx="1.2" ry="1.1" transform="rotate(369 263.3 28.9)" fill="#B07A40"/>
<ellipse cx="266.0" cy="23.3" rx="1.3" ry="0.9" transform="rotate(326 266.0 23.3)" fill="#B8884C"/>
<ellipse cx="270.5" cy="24.9" rx="1.1" ry="0.8" transform="rotate(400 270.5 24.9)" fill="#986030"/>
<ellipse cx="276.0" cy="31.2" rx="1.4" ry="0.6" transform="rotate(401 276.0 31.2)" fill="#B07A40"/>
<ellipse cx="277.7" cy="34.1" rx="1.8" ry="1.1" transform="rotate(385 277.7 34.1)" fill="#B07A40"/>
<ellipse cx="285.3" cy="25.8" rx="2.0" ry="1.1" transform="rotate(335 285.3 25.8)" fill="#B07A40"/>
<ellipse cx="286.1" cy="35.6" rx="1.0" ry="0.7" transform="rotate(379 286.1 35.6)" fill="#B07A40"/>
<ellipse cx="288.5" cy="32.0" rx="1.1" ry="1.1" transform="rotate(344 288.5 32.0)" fill="#986030"/>
<ellipse cx="290.5" cy="33.6" rx="2.2" ry="1.0" transform="rotate(407 290.5 33.6)" fill="#B07A40"/>
<ellipse cx="292.9" cy="26.6" rx="1.8" ry="0.9" transform="rotate(379 292.9 26.6)" fill="#A06A38"/>
<ellipse cx="295.4" cy="31.0" rx="1.5" ry="0.6" transform="rotate(331 295.4 31.0)" fill="#986030"/>
<ellipse cx="297.8" cy="28.7" rx="1.8" ry="0.7" transform="rotate(370 297.8 28.7)" fill="#A06A38"/>
<ellipse cx="300.8" cy="27.8" rx="2.0" ry="0.8" transform="rotate(406 300.8 27.8)" fill="#B07A40"/>
<ellipse cx="302.3" cy="30.3" rx="2.1" ry="1.2" transform="rotate(408 302.3 30.3)" fill="#B07A40"/>
<ellipse cx="302.7" cy="34.4" rx="1.9" ry="1.1" transform="rotate(404 302.7 34.4)" fill="#A06A38"/>
<ellipse cx="306.7" cy="31.8" rx="1.2" ry="1.0" transform="rotate(393 306.7 31.8)" fill="#B07A40"/>
<ellipse cx="307.2" cy="33.5" rx="2.2" ry="0.9" transform="rotate(401 307.2 33.5)" fill="#A06A38"/>
<ellipse cx="308.5" cy="31.3" rx="1.7" ry="0.9" transform="rotate(405 308.5 31.3)" fill="#A06A38"/>
<ellipse cx="310.6" cy="39.1" rx="1.8" ry="0.8" transform="rotate(369 310.6 39.1)" fill="#B8884C"/>
<ellipse cx="313.1" cy="39.8" rx="1.2" ry="1.0" transform="rotate(391 313.1 39.8)" fill="#986030"/>
<ellipse cx="315.4" cy="39.2" rx="1.6" ry="1.1" transform="rotate(374 315.4 39.2)" fill="#986030"/>
<ellipse cx="318.1" cy="32.7" rx="1.5" ry="0.7" transform="rotate(410 318.1 32.7)" fill="#B07A40"/>
<ellipse cx="319.1" cy="39.2" rx="1.9" ry="1.2" transform="rotate(404 319.1 39.2)" fill="#986030"/>
<ellipse cx="320.6" cy="38.7" rx="0.9" ry="0.9" transform="rotate(400 320.6 38.7)" fill="#A06A38"/>
<ellipse cx="322.2" cy="34.7" rx="1.7" ry="1.1" transform="rotate(353 322.2 34.7)" fill="#A06A38"/>
<ellipse cx="324.1" cy="40.1" rx="1.1" ry="1.1" transform="rotate(351 324.1 40.1)" fill="#A06A38"/>
<ellipse cx="327.0" cy="35.8" rx="2.1" ry="0.7" transform="rotate(349 327.0 35.8)" fill="#B07A40"/>
<ellipse cx="328.1" cy="35.3" rx="1.7" ry="1.2" transform="rotate(409 328.1 35.3)" fill="#A06A38"/>
<ellipse cx="329.5" cy="39.9" rx="1.0" ry="1.1" transform="rotate(372 329.5 39.9)" fill="#986030"/>
<ellipse cx="331.9" cy="38.4" rx="2.0" ry="1.2" transform="rotate(374 331.9 38.4)" fill="#986030"/>
<ellipse cx="332.3" cy="39.2" rx="1.1" ry="0.7" transform="rotate(370 332.3 39.2)" fill="#B8884C"/>
<ellipse cx="335.4" cy="37.7" rx="1.5" ry="1.2" transform="rotate(346 335.4 37.7)" fill="#986030"/>
<ellipse cx="336.3" cy="38.5" rx="2.2" ry="0.7" transform="rotate(415 336.3 38.5)" fill="#986030"/>
<ellipse cx="338.1" cy="44.5" rx="0.9" ry="0.7" transform="rotate(364 338.1 44.5)" fill="#A06A38"/>
<ellipse cx="339.9" cy="44.5" rx="2.1" ry="1.0" transform="rotate(402 339.9 44.5)" fill="#B8884C"/>
<ellipse cx="342.1" cy="43.5" rx="1.8" ry="0.8" transform="rotate(409 342.1 43.5)" fill="#B07A40"/>
<ellipse cx="343.5" cy="40.6" rx="1.0" ry="0.6" transform="rotate(418 343.5 40.6)" fill="#A06A38"/>
<ellipse cx="346.9" cy="45.2" rx="2.2" ry="1.0" transform="rotate(415 346.9 45.2)" fill="#A06A38"/>
<ellipse cx="349.8" cy="44.1" rx="1.4" ry="1.0" transform="rotate(382 349.8 44.1)" fill="#B07A40"/>
<ellipse cx="351.4" cy="53.1" rx="2.0" ry="0.9" transform="rotate(364 351.4 53.1)" fill="#986030"/>
<ellipse cx="353.7" cy="51.2" rx="1.7" ry="1.0" transform="rotate(345 353.7 51.2)" fill="#B8884C"/>
<ellipse cx="355.4" cy="48.3" rx="1.4" ry="1.0" transform="rotate(354 355.4 48.3)" fill="#A06A38"/>
<ellipse cx="359.7" cy="47.9" rx="1.1" ry="1.0" transform="rotate(396 359.7 47.9)" fill="#B07A40"/>
<ellipse cx="359.7" cy="48.8" rx="1.1" ry="0.7" transform="rotate(355 359.7 48.8)" fill="#A06A38"/>
<ellipse cx="359.4" cy="52.7" rx="1.4" ry="0.9" transform="rotate(388 359.4 52.7)" fill="#A06A38"/>
<ellipse cx="362.4" cy="58.9" rx="1.9" ry="1.1" transform="rotate(373 362.4 58.9)" fill="#B8884C"/>
<ellipse cx="369.4" cy="60.3" rx="1.9" ry="0.8" transform="rotate(408 369.4 60.3)" fill="#A06A38"/>
<ellipse cx="370.4" cy="59.8" rx="1.2" ry="0.7" transform="rotate(421 370.4 59.8)" fill="#986030"/>
<ellipse cx="375.9" cy="57.1" rx="2.2" ry="1.0" transform="rotate(387 375.9 57.1)" fill="#B07A40"/>
<ellipse cx="377.6" cy="59.2" rx="1.0" ry="0.9" transform="rotate(351 377.6 59.2)" fill="#B07A40"/>
<ellipse cx="376.3" cy="64.0" rx="1.8" ry="0.7" transform="rotate(382 376.3 64.0)" fill="#B8884C"/>
<ellipse cx="377.0" cy="63.9" rx="1.0" ry="1.0" transform="rotate(364 377.0 63.9)" fill="#986030"/>
<ellipse cx="379.4" cy="64.8" rx="1.4" ry="1.0" transform="rotate(366 379.4 64.8)" fill="#B8884C"/>
<ellipse cx="382.1" cy="66.4" rx="1.8" ry="0.8" transform="rotate(380 382.1 66.4)" fill="#A06A38"/>
<ellipse cx="385.3" cy="66.5" rx="2.1" ry="1.1" transform="rotate(373 385.3 66.5)" fill="#B8884C"/>
<ellipse cx="384.2" cy="69.5" rx="0.9" ry="0.7" transform="rotate(403 384.2 69.5)" fill="#A06A38"/>
<ellipse cx="388.9" cy="71.3" rx="1.2" ry="0.7" transform="rotate(427 388.9 71.3)" fill="#986030"/>
<ellipse cx="393.3" cy="73.1" rx="1.8" ry="0.8" transform="rotate(424 393.3 73.1)" fill="#A06A38"/>
<ellipse cx="393.7" cy="74.0" rx="1.0" ry="0.8" transform="rotate(352 393.7 74.0)" fill="#986030"/>
<ellipse cx="396.2" cy="77.0" rx="2.0" ry="1.0" transform="rotate(416 396.2 77.0)" fill="#B07A40"/>
<ellipse cx="395.9" cy="77.9" rx="1.4" ry="0.9" transform="rotate(363 395.9 77.9)" fill="#B07A40"/>
<ellipse cx="398.8" cy="78.5" rx="1.3" ry="0.7" transform="rotate(357 398.8 78.5)" fill="#B8884C"/>
<ellipse cx="401.6" cy="80.6" rx="1.6" ry="0.8" transform="rotate(428 401.6 80.6)" fill="#986030"/>
<ellipse cx="402.2" cy="83.7" rx="2.0" ry="1.0" transform="rotate(413 402.2 83.7)" fill="#B8884C"/>
<ellipse cx="405.6" cy="82.3" rx="1.2" ry="1.1" transform="rotate(371 405.6 82.3)" fill="#986030"/>
<ellipse cx="406.9" cy="84.5" rx="1.4" ry="0.6" transform="rotate(360 406.9 84.5)" fill="#986030"/>
<ellipse cx="406.0" cy="89.4" rx="1.9" ry="1.0" transform="rotate(364 406.0 89.4)" fill="#B8884C"/>
<ellipse cx="406.0" cy="89.8" rx="1.1" ry="0.8" transform="rotate(359 406.0 89.8)" fill="#B8884C"/>
<ellipse cx="409.3" cy="90.8" rx="2.2" ry="0.7" transform="rotate(382 409.3 90.8)" fill="#B07A40"/>
<ellipse cx="407.7" cy="94.0" rx="0.9" ry="0.7" transform="rotate(376 407.7 94.0)" fill="#A06A38"/>
<ellipse cx="409.6" cy="94.6" rx="1.1" ry="1.1" transform="rotate(387 409.6 94.6)" fill="#B8884C"/>
<ellipse cx="415.1" cy="90.4" rx="1.4" ry="0.7" transform="rotate(436 415.1 90.4)" fill="#A06A38"/>
<ellipse cx="411.6" cy="98.6" rx="0.9" ry="1.0" transform="rotate(368 411.6 98.6)" fill="#B07A40"/>
<ellipse cx="414.9" cy="94.7" rx="1.2" ry="1.1" transform="rotate(381 414.9 94.7)" fill="#B07A40"/>
<ellipse cx="415.7" cy="97.1" rx="0.9" ry="0.8" transform="rotate(384 415.7 97.1)" fill="#A06A38"/>
<ellipse cx="414.3" cy="102.5" rx="1.4" ry="0.8" transform="rotate(384 414.3 102.5)" fill="#B07A40"/>
<ellipse cx="420.0" cy="96.8" rx="1.2" ry="1.0" transform="rotate(428 420.0 96.8)" fill="#B8884C"/>
<ellipse cx="418.8" cy="102.7" rx="1.5" ry="1.0" transform="rotate(384 418.8 102.7)" fill="#B8884C"/>
<ellipse cx="417.3" cy="108.4" rx="1.7" ry="1.1" transform="rotate(378 417.3 108.4)" fill="#B8884C"/>
<ellipse cx="419.8" cy="106.5" rx="1.2" ry="1.1" transform="rotate(369 419.8 106.5)" fill="#B8884C"/>
<ellipse cx="424.4" cy="105.0" rx="1.8" ry="0.6" transform="rotate(431 424.4 105.0)" fill="#A06A38"/>
<ellipse cx="418.7" cy="111.8" rx="2.1" ry="0.8" transform="rotate(397 418.7 111.8)" fill="#986030"/>
<ellipse cx="421.5" cy="113.5" rx="1.4" ry="1.1" transform="rotate(401 421.5 113.5)" fill="#B07A40"/>
<ellipse cx="423.0" cy="111.9" rx="1.6" ry="0.8" transform="rotate(410 423.0 111.9)" fill="#A06A38"/>
<ellipse cx="426.6" cy="111.8" rx="2.2" ry="1.0" transform="rotate(391 426.6 111.8)" fill="#B07A40"/>
<ellipse cx="428.0" cy="111.8" rx="2.1" ry="0.8" transform="rotate(396 428.0 111.8)" fill="#B8884C"/>
<ellipse cx="426.5" cy="119.0" rx="1.8" ry="0.7" transform="rotate(377 426.5 119.0)" fill="#986030"/>
<ellipse cx="425.4" cy="123.3" rx="1.3" ry="0.8" transform="rotate(435 425.4 123.3)" fill="#A06A38"/>
<ellipse cx="430.3" cy="121.1" rx="1.7" ry="0.7" transform="rotate(385 430.3 121.1)" fill="#B07A40"/>
<ellipse cx="432.9" cy="122.3" rx="1.8" ry="1.0" transform="rotate(407 432.9 122.3)" fill="#A06A38"/>
<ellipse cx="429.3" cy="126.7" rx="1.7" ry="1.1" transform="rotate(409 429.3 126.7)" fill="#B07A40"/>
<ellipse cx="433.3" cy="126.6" rx="2.0" ry="0.9" transform="rotate(376 433.3 126.6)" fill="#B07A40"/>
<ellipse cx="429.7" cy="134.4" rx="1.8" ry="0.8" transform="rotate(444 429.7 134.4)" fill="#A06A38"/>
<ellipse cx="435.2" cy="130.1" rx="2.1" ry="0.9" transform="rotate(368 435.2 130.1)" fill="#B8884C"/>
<ellipse cx="436.3" cy="132.4" rx="1.3" ry="0.6" transform="rotate(439 436.3 132.4)" fill="#986030"/>
<ellipse cx="432.3" cy="141.0" rx="1.3" ry="1.0" transform="rotate(421 432.3 141.0)" fill="#A06A38"/>
<ellipse cx="438.9" cy="137.5" rx="1.3" ry="1.2" transform="rotate(432 438.9 137.5)" fill="#A06A38"/>
<ellipse cx="437.2" cy="143.5" rx="1.1" ry="1.0" transform="rotate(438 437.2 143.5)" fill="#B8884C"/>
<ellipse cx="438.9" cy="142.6" rx="1.2" ry="0.8" transform="rotate(444 438.9 142.6)" fill="#B07A40"/>
<ellipse cx="437.5" cy="147.3" rx="1.4" ry="0.9" transform="rotate(406 437.5 147.3)" fill="#986030"/>
<ellipse cx="436.5" cy="151.0" rx="2.1" ry="0.7" transform="rotate(443 436.5 151.0)" fill="#B07A40"/>
<ellipse cx="437.1" cy="152.5" rx="2.1" ry="1.0" transform="rotate(387 437.1 152.5)" fill="#B07A40"/>
<ellipse cx="440.6" cy="153.3" rx="1.7" ry="0.7" transform="rotate(401 440.6 153.3)" fill="#B8884C"/>
<ellipse cx="442.8" cy="155.0" rx="1.1" ry="0.9" transform="rotate(435 442.8 155.0)" fill="#B07A40"/>
<ellipse cx="439.1" cy="159.6" rx="2.2" ry="0.9" transform="rotate(380 439.1 159.6)" fill="#B8884C"/>
<ellipse cx="442.3" cy="158.4" rx="1.0" ry="0.8" transform="rotate(387 442.3 158.4)" fill="#B07A40"/>
<ellipse cx="442.4" cy="159.9" rx="1.0" ry="1.0" transform="rotate(395 442.4 159.9)" fill="#B07A40"/>
<ellipse cx="445.2" cy="165.2" rx="1.7" ry="0.7" transform="rotate(445 445.2 165.2)" fill="#B8884C"/>
<ellipse cx="444.7" cy="165.7" rx="1.2" ry="0.9" transform="rotate(432 444.7 165.7)" fill="#986030"/>
<ellipse cx="442.6" cy="176.5" rx="1.5" ry="0.8" transform="rotate(383 442.6 176.5)" fill="#986030"/>
<ellipse cx="443.9" cy="179.0" rx="1.4" ry="1.1" transform="rotate(447 443.9 179.0)" fill="#A06A38"/>
<ellipse cx="446.9" cy="176.9" rx="0.9" ry="0.7" transform="rotate(416 446.9 176.9)" fill="#986030"/>
<ellipse cx="447.2" cy="178.4" rx="1.4" ry="0.8" transform="rotate(451 447.2 178.4)" fill="#A06A38"/>
<ellipse cx="448.0" cy="181.0" rx="1.7" ry="0.9" transform="rotate(431 448.0 181.0)" fill="#B8884C"/>
<ellipse cx="448.2" cy="181.8" rx="1.2" ry="0.6" transform="rotate(443 448.2 181.8)" fill="#B07A40"/>
<ellipse cx="447.0" cy="184.7" rx="2.0" ry="0.6" transform="rotate(423 447.0 184.7)" fill="#986030"/>
<ellipse cx="449.2" cy="188.0" rx="1.7" ry="1.2" transform="rotate(414 449.2 188.0)" fill="#B07A40"/>
<ellipse cx="448.6" cy="191.1" rx="1.5" ry="0.8" transform="rotate(381 448.6 191.1)" fill="#B07A40"/>
<ellipse cx="445.5" cy="194.0" rx="1.9" ry="0.8" transform="rotate(403 445.5 194.0)" fill="#B07A40"/>
<ellipse cx="445.5" cy="198.5" rx="1.1" ry="0.8" transform="rotate(410 445.5 198.5)" fill="#B8884C"/>
<ellipse cx="446.3" cy="199.6" rx="1.5" ry="0.7" transform="rotate(420 446.3 199.6)" fill="#B07A40"/>
<ellipse cx="447.0" cy="199.8" rx="1.4" ry="0.9" transform="rotate(438 447.0 199.8)" fill="#986030"/>
<ellipse cx="449.9" cy="200.8" rx="2.1" ry="0.7" transform="rotate(403 449.9 200.8)" fill="#B8884C"/>
<ellipse cx="449.3" cy="203.7" rx="1.2" ry="0.9" transform="rotate(454 449.3 203.7)" fill="#B8884C"/>
<ellipse cx="450.7" cy="203.7" rx="2.1" ry="0.9" transform="rotate(446 450.7 203.7)" fill="#A06A38"/>
<ellipse cx="452.2" cy="204.6" rx="2.0" ry="1.1" transform="rotate(423 452.2 204.6)" fill="#986030"/>
<ellipse cx="449.3" cy="210.9" rx="2.0" ry="0.9" transform="rotate(395 449.3 210.9)" fill="#986030"/>
<ellipse cx="450.6" cy="212.8" rx="2.2" ry="0.9" transform="rotate(430 450.6 212.8)" fill="#B8884C"/>
<ellipse cx="452.8" cy="214.6" rx="2.0" ry="1.0" transform="rotate(452 452.8 214.6)" fill="#986030"/>
<ellipse cx="452.2" cy="216.0" rx="1.3" ry="0.8" transform="rotate(432 452.2 216.0)" fill="#A06A38"/>
<ellipse cx="453.0" cy="217.0" rx="1.3" ry="1.1" transform="rotate(415 453.0 217.0)" fill="#986030"/>
<ellipse cx="452.7" cy="219.9" rx="1.3" ry="1.2" transform="rotate(458 452.7 219.9)" fill="#B07A40"/>
<ellipse cx="456.6" cy="220.3" rx="1.7" ry="0.7" transform="rotate(452 456.6 220.3)" fill="#B07A40"/>
<ellipse cx="452.5" cy="224.8" rx="1.2" ry="0.9" transform="rotate(437 452.5 224.8)" fill="#A06A38"/>
<ellipse cx="455.2" cy="226.3" rx="2.1" ry="0.8" transform="rotate(460 455.2 226.3)" fill="#B8884C"/>
<ellipse cx="456.2" cy="226.6" rx="1.3" ry="1.0" transform="rotate(466 456.2 226.6)" fill="#B8884C"/>
<ellipse cx="453.8" cy="229.7" rx="1.9" ry="1.2" transform="rotate(466 453.8 229.7)" fill="#B8884C"/>
<ellipse cx="453.3" cy="230.4" rx="1.6" ry="0.7" transform="rotate(395 453.3 230.4)" fill="#986030"/>
<ellipse cx="455.1" cy="232.8" rx="1.3" ry="0.8" transform="rotate(428 455.1 232.8)" fill="#B07A40"/>
<ellipse cx="457.3" cy="233.6" rx="1.0" ry="0.7" transform="rotate(417 457.3 233.6)" fill="#B07A40"/>
<ellipse cx="459.5" cy="235.9" rx="1.0" ry="0.7" transform="rotate(414 459.5 235.9)" fill="#A06A38"/>
<ellipse cx="456.2" cy="238.5" rx="1.7" ry="1.1" transform="rotate(426 456.2 238.5)" fill="#A06A38"/>
<ellipse cx="456.6" cy="239.8" rx="1.0" ry="1.0" transform="rotate(393 456.6 239.8)" fill="#A06A38"/>
<ellipse cx="457.0" cy="239.8" rx="2.2" ry="1.1" transform="rotate(421 457.0 239.8)" fill="#A06A38"/>
<ellipse cx="459.5" cy="241.5" rx="2.0" ry="0.9" transform="rotate(439 459.5 241.5)" fill="#B07A40"/>
<ellipse cx="457.2" cy="243.7" rx="1.4" ry="0.7" transform="rotate(414 457.2 243.7)" fill="#986030"/>
<ellipse cx="462.2" cy="243.2" rx="1.3" ry="1.2" transform="rotate(438 462.2 243.2)" fill="#986030"/>
<ellipse cx="457.1" cy="246.1" rx="2.1" ry="0.8" transform="rotate(453 457.1 246.1)" fill="#986030"/>
<ellipse cx="462.3" cy="246.8" rx="1.9" ry="0.8" transform="rotate(431 462.3 246.8)" fill="#A06A38"/>
<ellipse cx="462.4" cy="249.3" rx="1.2" ry="1.0" transform="rotate(411 462.4 249.3)" fill="#B07A40"/>
<ellipse cx="465.0" cy="250.5" rx="1.7" ry="0.7" transform="rotate(458 465.0 250.5)" fill="#A06A38"/>
<ellipse cx="459.1" cy="252.1" rx="1.5" ry="0.8" transform="rotate(396 459.1 252.1)" fill="#A06A38"/>
<ellipse cx="464.7" cy="252.5" rx="1.2" ry="0.8" transform="rotate(442 464.7 252.5)" fill="#B8884C"/>
<ellipse cx="459.9" cy="255.2" rx="0.9" ry="1.1" transform="rotate(396 459.9 255.2)" fill="#B8884C"/>
<ellipse cx="460.5" cy="257.3" rx="1.8" ry="1.2" transform="rotate(463 460.5 257.3)" fill="#A06A38"/>
<ellipse cx="462.9" cy="260.1" rx="1.6" ry="0.8" transform="rotate(402 462.9 260.1)" fill="#B8884C"/>
<ellipse cx="466.0" cy="260.3" rx="1.6" ry="0.6" transform="rotate(432 466.0 260.3)" fill="#B8884C"/>
<ellipse cx="469.2" cy="262.5" rx="2.0" ry="1.0" transform="rotate(402 469.2 262.5)" fill="#986030"/>
<ellipse cx="462.3" cy="265.0" rx="1.4" ry="0.9" transform="rotate(470 462.3 265.0)" fill="#A06A38"/>
<ellipse cx="468.2" cy="264.5" rx="1.6" ry="1.2" transform="rotate(425 468.2 264.5)" fill="#B8884C"/>
<ellipse cx="467.4" cy="267.3" rx="1.5" ry="0.9" transform="rotate(401 467.4 267.3)" fill="#B07A40"/>
<ellipse cx="467.0" cy="268.3" rx="1.8" ry="1.2" transform="rotate(442 467.0 268.3)" fill="#A06A38"/>
<ellipse cx="468.9" cy="268.5" rx="1.2" ry="1.1" transform="rotate(461 468.9 268.5)" fill="#B07A40"/>
<ellipse cx="465.9" cy="271.6" rx="1.8" ry="0.9" transform="rotate(418 465.9 271.6)" fill="#986030"/>
<ellipse cx="465.4" cy="272.8" rx="1.0" ry="0.9" transform="rotate(466 465.4 272.8)" fill="#B8884C"/>
<ellipse cx="466.0" cy="274.7" rx="2.2" ry="0.8" transform="rotate(468 466.0 274.7)" fill="#986030"/>
<ellipse cx="466.8" cy="274.3" rx="1.1" ry="1.1" transform="rotate(476 466.8 274.3)" fill="#B8884C"/>
<ellipse cx="470.7" cy="276.6" rx="1.0" ry="0.8" transform="rotate(428 470.7 276.6)" fill="#986030"/>
<ellipse cx="465.8" cy="278.2" rx="1.5" ry="1.1" transform="rotate(470 465.8 278.2)" fill="#B8884C"/>
<ellipse cx="472.3" cy="279.2" rx="2.0" ry="0.7" transform="rotate(477 472.3 279.2)" fill="#A06A38"/>
<ellipse cx="473.1" cy="279.2" rx="1.1" ry="0.9" transform="rotate(474 473.1 279.2)" fill="#986030"/>
<ellipse cx="470.4" cy="284.9" rx="1.1" ry="1.0" transform="rotate(452 470.4 284.9)" fill="#986030"/>
<ellipse cx="469.0" cy="286.9" rx="1.1" ry="1.1" transform="rotate(458 469.0 286.9)" fill="#A06A38"/>
<ellipse cx="468.0" cy="287.4" rx="1.5" ry="1.1" transform="rotate(466 468.0 287.4)" fill="#B07A40"/>
<ellipse cx="468.2" cy="289.0" rx="1.2" ry="1.2" transform="rotate(419 468.2 289.0)" fill="#A06A38"/>
<ellipse cx="473.0" cy="291.0" rx="1.5" ry="0.6" transform="rotate(438 473.0 291.0)" fill="#986030"/>
<ellipse cx="472.6" cy="292.4" rx="1.5" ry="0.8" transform="rotate(433 472.6 292.4)" fill="#B07A40"/>
<ellipse cx="469.0" cy="295.3" rx="1.1" ry="0.9" transform="rotate(430 469.0 295.3)" fill="#B8884C"/>
<ellipse cx="475.1" cy="295.2" rx="1.4" ry="1.2" transform="rotate(445 475.1 295.2)" fill="#A06A38"/>
<ellipse cx="473.1" cy="297.1" rx="1.2" ry="0.7" transform="rotate(427 473.1 297.1)" fill="#B07A40"/>
<ellipse cx="475.6" cy="300.6" rx="1.7" ry="0.9" transform="rotate(435 475.6 300.6)" fill="#A06A38"/>
<ellipse cx="474.4" cy="302.2" rx="1.3" ry="0.9" transform="rotate(449 474.4 302.2)" fill="#B8884C"/>
<ellipse cx="476.0" cy="302.4" rx="1.7" ry="1.0" transform="rotate(455 476.0 302.4)" fill="#B07A40"/>
<ellipse cx="474.6" cy="305.0" rx="2.2" ry="0.6" transform="rotate(442 474.6 305.0)" fill="#B8884C"/>
<ellipse cx="476.1" cy="305.5" rx="1.5" ry="0.8" transform="rotate(469 476.1 305.5)" fill="#B07A40"/>
<ellipse cx="477.7" cy="308.8" rx="1.4" ry="1.0" transform="rotate(426 477.7 308.8)" fill="#B8884C"/></g>
<path d="M250.0,40.0 C270.7,40.7 295.7,44.0 314.0,48.0 C332.3,52.0 348.3,59.4 360.0,64.0 C371.7,68.6 377.3,70.7 384.0,75.5 C390.7,80.3 395.2,86.6 400.0,93.0 C404.8,99.4 408.8,106.5 413.0,114.0 C417.2,121.5 421.0,128.3 425.0,138.0 C429.0,147.7 434.2,160.9 437.0,172.0 C439.8,183.1 439.7,193.2 442.0,204.5 C444.3,215.8 448.2,228.8 451.0,240.0 C453.8,251.2 456.7,261.2 459.0,272.0 C461.3,282.8 463.3,293.2 465.0,304.5 C466.7,315.8 468.3,329.4 469.0,340.0 C469.7,350.6 469.5,358.0 469.0,368.0 C468.5,378.0 468.2,389.3 466.0,400.0 C463.8,410.7 460.0,421.3 456.0,432.0 C452.0,442.7 447.0,452.7 442.0,464.0 C437.0,475.3 432.5,491.2 426.0,500.0 C419.5,508.8 410.2,510.3 403.0,517.0 C395.8,523.7 389.8,533.8 383.0,540.0 C376.2,546.2 370.8,549.9 362.0,554.5 C353.2,559.1 340.3,563.3 330.0,567.4 C319.7,571.5 310.3,576.4 300.0,579.0 C289.7,581.6 281.3,582.5 268.0,583.0 C254.7,583.5 231.3,583.5 220.0,582.0 C208.7,580.5 209.2,577.5 200.0,574.0 C190.8,570.5 175.8,566.3 164.5,561.0 C153.2,555.7 142.8,548.2 132.0,542.0 C121.2,535.8 110.2,531.5 100.0,524.0 C89.8,516.5 78.2,506.9 71.0,497.0 C63.8,487.1 61.1,475.3 56.5,464.5 C51.9,453.7 47.2,442.8 43.5,432.0 C39.8,421.2 36.2,412.5 34.0,400.0 C31.8,387.5 30.3,370.0 30.0,357.0 C29.7,344.0 31.1,333.8 32.0,322.0 C32.9,310.2 33.7,298.3 35.5,286.5 C37.3,274.7 39.7,262.8 42.6,251.0 C45.5,239.2 49.2,227.3 53.0,215.5 C56.8,203.7 61.3,194.2 65.6,180.0 C69.9,165.8 75.0,142.0 78.7,130.0 C82.4,118.0 84.3,115.0 88.0,108.0 C91.7,101.0 96.2,94.0 101.0,88.0 C105.8,82.0 110.5,77.0 117.0,72.0 C123.5,67.0 127.8,62.4 140.0,57.7 C152.2,53.0 171.7,47.0 190.0,44.0 C208.3,41.0 229.3,39.3 250.0,40.0Z" fill="#F0E2DE" stroke="#FCF8F2" stroke-width="2"/>
<path d="M246.0,48.0 C252.7,48.0 253.7,44.7 265.0,45.0 C276.3,45.3 298.2,45.8 314.0,50.0 C329.8,54.2 348.3,64.0 360.0,70.0 C371.7,76.0 377.8,80.0 384.0,86.0 C390.2,92.0 393.2,99.0 397.0,106.0 C400.8,113.0 403.5,122.0 407.0,128.0 C410.5,134.0 414.8,134.7 418.0,142.0 C421.2,149.3 423.3,162.3 426.0,172.0 C428.7,181.7 430.7,189.3 434.0,200.0 C437.3,210.7 443.3,224.0 446.0,236.0 C448.7,248.0 448.8,260.7 450.0,272.0 C451.2,283.3 452.2,292.7 453.0,304.0 C453.8,315.3 455.2,329.3 455.0,340.0 C454.8,350.7 453.5,358.0 452.0,368.0 C450.5,378.0 448.3,390.0 446.0,400.0 C443.7,410.0 442.8,417.0 438.0,428.0 C433.2,439.0 423.0,454.3 417.0,466.0 C411.0,477.7 408.0,488.7 402.0,498.0 C396.0,507.3 388.7,514.8 381.0,522.0 C373.3,529.2 364.5,535.6 356.0,541.0 C347.5,546.4 337.7,550.8 330.0,554.5 C322.3,558.2 317.6,561.8 310.0,563.5 C302.4,565.2 292.8,565.8 284.5,565.0 C276.2,564.2 265.6,561.2 260.0,558.7 C254.4,556.2 253.8,551.5 251.0,550.0 C248.2,548.5 246.5,549.1 243.0,550.0 C239.5,550.9 233.8,554.0 230.0,555.5 C226.2,557.0 225.0,558.0 220.0,558.7 C215.0,559.5 209.2,561.8 200.0,560.0 C190.8,558.2 175.8,553.5 164.5,548.0 C153.2,542.5 142.8,533.9 132.0,527.0 C121.2,520.1 108.6,511.5 100.0,506.5 C91.4,501.5 86.5,504.0 80.6,497.0 C74.7,490.0 69.6,475.3 64.5,464.5 C59.4,453.7 54.3,442.8 50.0,432.0 C45.7,421.2 41.5,412.5 38.7,400.0 C35.9,387.5 33.8,370.0 33.0,357.0 C32.2,344.0 33.3,333.7 34.0,322.0 C34.7,310.3 35.3,298.8 37.0,287.0 C38.7,275.2 41.2,262.9 44.0,251.0 C46.8,239.1 50.3,227.3 54.0,215.5 C57.7,203.7 61.8,193.6 66.0,180.0 C70.2,166.4 75.2,145.7 79.0,134.0 C82.8,122.3 85.3,117.2 89.0,110.0 C92.7,102.8 96.3,96.8 101.0,91.0 C105.7,85.2 110.5,80.2 117.0,75.0 C123.5,69.8 129.5,64.5 140.0,60.0 C150.5,55.5 165.8,50.5 180.0,48.0 C194.2,45.5 214.0,45.0 225.0,45.0 C236.0,45.0 239.3,48.0 246.0,48.0Z" fill="#9C7078" stroke="#5A2E36" stroke-width="2.5"/>
<path d="M430,212 C438,204 446,212 449,238 C451,262 452,290 452,310 C448,312 444,308 442,300 C438,280 434,258 430,238 Z" fill="#7A4650" filter="url(#bl1)"/>
<path d="M40,250 C44,220 52,200 62,180 L70,182 C62,210 56,240 54,270 C52,300 50,340 50,380 L42,380 C40,340 38,300 40,250 Z" fill="#6E3C46" filter="url(#bl1)" opacity="0.35"/>
<clipPath id="cclip"><path d="M246.0,51.0 C252.7,51.1 253.7,48.0 265.0,48.5 C276.3,49.0 298.5,49.8 314.0,54.0 C329.5,58.2 346.7,67.6 358.0,73.5 C369.3,79.4 375.8,83.6 382.0,89.5 C388.2,95.4 391.2,102.1 395.0,109.0 C398.8,115.9 401.8,125.2 405.0,131.0 C408.2,136.8 411.3,137.2 414.0,144.0 C416.7,150.8 418.8,162.7 421.0,172.0 C423.2,181.3 425.2,188.7 427.0,200.0 C428.8,211.3 430.2,228.0 432.0,240.0 C433.8,252.0 436.7,261.3 438.0,272.0 C439.3,282.7 439.2,292.7 440.0,304.0 C440.8,315.3 442.7,329.3 443.0,340.0 C443.3,350.7 443.0,358.0 442.0,368.0 C441.0,378.0 438.8,390.0 437.0,400.0 C435.2,410.0 435.3,417.2 431.0,428.0 C426.7,438.8 416.8,453.5 411.0,465.0 C405.2,476.5 402.0,488.0 396.0,497.0 C390.0,506.0 382.5,512.3 375.0,519.0 C367.5,525.7 358.8,531.7 351.0,537.0 C343.2,542.3 335.2,547.2 328.0,551.0 C320.8,554.8 315.3,558.2 308.0,560.0 C300.7,561.8 291.7,562.7 284.0,562.0 C276.3,561.3 267.3,558.5 262.0,556.0 C256.7,553.5 255.2,548.5 252.0,547.0 C248.8,545.5 246.3,546.2 243.0,547.0 C239.7,547.8 235.8,550.6 232.0,552.0 C228.2,553.4 225.3,554.7 220.0,555.5 C214.7,556.3 209.0,558.8 200.0,557.0 C191.0,555.2 177.0,550.7 166.0,545.0 C155.0,539.3 144.8,530.0 134.0,523.0 C123.2,516.0 109.7,508.0 101.0,503.0 C92.3,498.0 87.3,499.8 82.0,493.0 C76.7,486.2 73.3,472.5 69.0,462.0 C64.7,451.5 59.5,440.3 56.0,430.0 C52.5,419.7 49.7,412.2 48.0,400.0 C46.3,387.8 45.8,370.0 46.0,357.0 C46.2,344.0 48.0,333.7 49.0,322.0 C50.0,310.3 50.7,298.8 52.0,287.0 C53.3,275.2 54.7,263.0 57.0,251.0 C59.3,239.0 62.8,226.8 66.0,215.0 C69.2,203.2 72.7,193.2 76.0,180.0 C79.3,166.8 82.8,147.0 86.0,136.0 C89.2,125.0 91.8,120.8 95.0,114.0 C98.2,107.2 100.8,100.7 105.0,95.0 C109.2,89.3 113.7,85.2 120.0,80.0 C126.3,74.8 132.7,68.8 143.0,64.0 C153.3,59.2 168.3,53.7 182.0,51.0 C195.7,48.3 214.3,48.0 225.0,48.0 C235.7,48.0 239.3,50.9 246.0,51.0Z"/></clipPath>
<path d="M246.0,51.0 C252.7,51.1 253.7,48.0 265.0,48.5 C276.3,49.0 298.5,49.8 314.0,54.0 C329.5,58.2 346.7,67.6 358.0,73.5 C369.3,79.4 375.8,83.6 382.0,89.5 C388.2,95.4 391.2,102.1 395.0,109.0 C398.8,115.9 401.8,125.2 405.0,131.0 C408.2,136.8 411.3,137.2 414.0,144.0 C416.7,150.8 418.8,162.7 421.0,172.0 C423.2,181.3 425.2,188.7 427.0,200.0 C428.8,211.3 430.2,228.0 432.0,240.0 C433.8,252.0 436.7,261.3 438.0,272.0 C439.3,282.7 439.2,292.7 440.0,304.0 C440.8,315.3 442.7,329.3 443.0,340.0 C443.3,350.7 443.0,358.0 442.0,368.0 C441.0,378.0 438.8,390.0 437.0,400.0 C435.2,410.0 435.3,417.2 431.0,428.0 C426.7,438.8 416.8,453.5 411.0,465.0 C405.2,476.5 402.0,488.0 396.0,497.0 C390.0,506.0 382.5,512.3 375.0,519.0 C367.5,525.7 358.8,531.7 351.0,537.0 C343.2,542.3 335.2,547.2 328.0,551.0 C320.8,554.8 315.3,558.2 308.0,560.0 C300.7,561.8 291.7,562.7 284.0,562.0 C276.3,561.3 267.3,558.5 262.0,556.0 C256.7,553.5 255.2,548.5 252.0,547.0 C248.8,545.5 246.3,546.2 243.0,547.0 C239.7,547.8 235.8,550.6 232.0,552.0 C228.2,553.4 225.3,554.7 220.0,555.5 C214.7,556.3 209.0,558.8 200.0,557.0 C191.0,555.2 177.0,550.7 166.0,545.0 C155.0,539.3 144.8,530.0 134.0,523.0 C123.2,516.0 109.7,508.0 101.0,503.0 C92.3,498.0 87.3,499.8 82.0,493.0 C76.7,486.2 73.3,472.5 69.0,462.0 C64.7,451.5 59.5,440.3 56.0,430.0 C52.5,419.7 49.7,412.2 48.0,400.0 C46.3,387.8 45.8,370.0 46.0,357.0 C46.2,344.0 48.0,333.7 49.0,322.0 C50.0,310.3 50.7,298.8 52.0,287.0 C53.3,275.2 54.7,263.0 57.0,251.0 C59.3,239.0 62.8,226.8 66.0,215.0 C69.2,203.2 72.7,193.2 76.0,180.0 C79.3,166.8 82.8,147.0 86.0,136.0 C89.2,125.0 91.8,120.8 95.0,114.0 C98.2,107.2 100.8,100.7 105.0,95.0 C109.2,89.3 113.7,85.2 120.0,80.0 C126.3,74.8 132.7,68.8 143.0,64.0 C153.3,59.2 168.3,53.7 182.0,51.0 C195.7,48.3 214.3,48.0 225.0,48.0 C235.7,48.0 239.3,50.9 246.0,51.0Z" fill="#E9C3B1"/>
<g clip-path="url(#cclip)">
<path d="M246.0,51.0 C252.7,51.1 253.7,48.0 265.0,48.5 C276.3,49.0 298.5,49.8 314.0,54.0 C329.5,58.2 346.7,67.6 358.0,73.5 C369.3,79.4 375.8,83.6 382.0,89.5 C388.2,95.4 391.2,102.1 395.0,109.0 C398.8,115.9 401.8,125.2 405.0,131.0 C408.2,136.8 411.3,137.2 414.0,144.0 C416.7,150.8 418.8,162.7 421.0,172.0 C423.2,181.3 425.2,188.7 427.0,200.0 C428.8,211.3 430.2,228.0 432.0,240.0 C433.8,252.0 436.7,261.3 438.0,272.0 C439.3,282.7 439.2,292.7 440.0,304.0 C440.8,315.3 442.7,329.3 443.0,340.0 C443.3,350.7 443.0,358.0 442.0,368.0 C441.0,378.0 438.8,390.0 437.0,400.0 C435.2,410.0 435.3,417.2 431.0,428.0 C426.7,438.8 416.8,453.5 411.0,465.0 C405.2,476.5 402.0,488.0 396.0,497.0 C390.0,506.0 382.5,512.3 375.0,519.0 C367.5,525.7 358.8,531.7 351.0,537.0 C343.2,542.3 335.2,547.2 328.0,551.0 C320.8,554.8 315.3,558.2 308.0,560.0 C300.7,561.8 291.7,562.7 284.0,562.0 C276.3,561.3 267.3,558.5 262.0,556.0 C256.7,553.5 255.2,548.5 252.0,547.0 C248.8,545.5 246.3,546.2 243.0,547.0 C239.7,547.8 235.8,550.6 232.0,552.0 C228.2,553.4 225.3,554.7 220.0,555.5 C214.7,556.3 209.0,558.8 200.0,557.0 C191.0,555.2 177.0,550.7 166.0,545.0 C155.0,539.3 144.8,530.0 134.0,523.0 C123.2,516.0 109.7,508.0 101.0,503.0 C92.3,498.0 87.3,499.8 82.0,493.0 C76.7,486.2 73.3,472.5 69.0,462.0 C64.7,451.5 59.5,440.3 56.0,430.0 C52.5,419.7 49.7,412.2 48.0,400.0 C46.3,387.8 45.8,370.0 46.0,357.0 C46.2,344.0 48.0,333.7 49.0,322.0 C50.0,310.3 50.7,298.8 52.0,287.0 C53.3,275.2 54.7,263.0 57.0,251.0 C59.3,239.0 62.8,226.8 66.0,215.0 C69.2,203.2 72.7,193.2 76.0,180.0 C79.3,166.8 82.8,147.0 86.0,136.0 C89.2,125.0 91.8,120.8 95.0,114.0 C98.2,107.2 100.8,100.7 105.0,95.0 C109.2,89.3 113.7,85.2 120.0,80.0 C126.3,74.8 132.7,68.8 143.0,64.0 C153.3,59.2 168.3,53.7 182.0,51.0 C195.7,48.3 214.3,48.0 225.0,48.0 C235.7,48.0 239.3,50.9 246.0,51.0Z" fill="none" stroke="#B88A88" stroke-width="26" filter="url(#bl3)" opacity="0.65"/>
<path d="M246.0,51.0 C252.7,51.1 253.7,48.0 265.0,48.5 C276.3,49.0 298.5,49.8 314.0,54.0 C329.5,58.2 346.7,67.6 358.0,73.5 C369.3,79.4 375.8,83.6 382.0,89.5 C388.2,95.4 391.2,102.1 395.0,109.0 C398.8,115.9 401.8,125.2 405.0,131.0 C408.2,136.8 411.3,137.2 414.0,144.0 C416.7,150.8 418.8,162.7 421.0,172.0 C423.2,181.3 425.2,188.7 427.0,200.0 C428.8,211.3 430.2,228.0 432.0,240.0 C433.8,252.0 436.7,261.3 438.0,272.0 C439.3,282.7 439.2,292.7 440.0,304.0 C440.8,315.3 442.7,329.3 443.0,340.0 C443.3,350.7 443.0,358.0 442.0,368.0 C441.0,378.0 438.8,390.0 437.0,400.0 C435.2,410.0 435.3,417.2 431.0,428.0 C426.7,438.8 416.8,453.5 411.0,465.0 C405.2,476.5 402.0,488.0 396.0,497.0 C390.0,506.0 382.5,512.3 375.0,519.0 C367.5,525.7 358.8,531.7 351.0,537.0 C343.2,542.3 335.2,547.2 328.0,551.0 C320.8,554.8 315.3,558.2 308.0,560.0 C300.7,561.8 291.7,562.7 284.0,562.0 C276.3,561.3 267.3,558.5 262.0,556.0 C256.7,553.5 255.2,548.5 252.0,547.0 C248.8,545.5 246.3,546.2 243.0,547.0 C239.7,547.8 235.8,550.6 232.0,552.0 C228.2,553.4 225.3,554.7 220.0,555.5 C214.7,556.3 209.0,558.8 200.0,557.0 C191.0,555.2 177.0,550.7 166.0,545.0 C155.0,539.3 144.8,530.0 134.0,523.0 C123.2,516.0 109.7,508.0 101.0,503.0 C92.3,498.0 87.3,499.8 82.0,493.0 C76.7,486.2 73.3,472.5 69.0,462.0 C64.7,451.5 59.5,440.3 56.0,430.0 C52.5,419.7 49.7,412.2 48.0,400.0 C46.3,387.8 45.8,370.0 46.0,357.0 C46.2,344.0 48.0,333.7 49.0,322.0 C50.0,310.3 50.7,298.8 52.0,287.0 C53.3,275.2 54.7,263.0 57.0,251.0 C59.3,239.0 62.8,226.8 66.0,215.0 C69.2,203.2 72.7,193.2 76.0,180.0 C79.3,166.8 82.8,147.0 86.0,136.0 C89.2,125.0 91.8,120.8 95.0,114.0 C98.2,107.2 100.8,100.7 105.0,95.0 C109.2,89.3 113.7,85.2 120.0,80.0 C126.3,74.8 132.7,68.8 143.0,64.0 C153.3,59.2 168.3,53.7 182.0,51.0 C195.7,48.3 214.3,48.0 225.0,48.0 C235.7,48.0 239.3,50.9 246.0,51.0Z" fill="none" stroke="#7A4A52" stroke-width="1.5"/>
<ellipse cx="72" cy="294" rx="6" ry="7" fill="#F4E8E0" filter="url(#bl1)"/>
<clipPath id="ltclip"><path d="M0,0 L400,0 L330,120 L200,200 L130,330 L100,480 L0,480 Z"/></clipPath>
<g clip-path="url(#ltclip)"><path d="M246.0,51.0 C252.7,51.1 253.7,48.0 265.0,48.5 C276.3,49.0 298.5,49.8 314.0,54.0 C329.5,58.2 346.7,67.6 358.0,73.5 C369.3,79.4 375.8,83.6 382.0,89.5 C388.2,95.4 391.2,102.1 395.0,109.0 C398.8,115.9 401.8,125.2 405.0,131.0 C408.2,136.8 411.3,137.2 414.0,144.0 C416.7,150.8 418.8,162.7 421.0,172.0 C423.2,181.3 425.2,188.7 427.0,200.0 C428.8,211.3 430.2,228.0 432.0,240.0 C433.8,252.0 436.7,261.3 438.0,272.0 C439.3,282.7 439.2,292.7 440.0,304.0 C440.8,315.3 442.7,329.3 443.0,340.0 C443.3,350.7 443.0,358.0 442.0,368.0 C441.0,378.0 438.8,390.0 437.0,400.0 C435.2,410.0 435.3,417.2 431.0,428.0 C426.7,438.8 416.8,453.5 411.0,465.0 C405.2,476.5 402.0,488.0 396.0,497.0 C390.0,506.0 382.5,512.3 375.0,519.0 C367.5,525.7 358.8,531.7 351.0,537.0 C343.2,542.3 335.2,547.2 328.0,551.0 C320.8,554.8 315.3,558.2 308.0,560.0 C300.7,561.8 291.7,562.7 284.0,562.0 C276.3,561.3 267.3,558.5 262.0,556.0 C256.7,553.5 255.2,548.5 252.0,547.0 C248.8,545.5 246.3,546.2 243.0,547.0 C239.7,547.8 235.8,550.6 232.0,552.0 C228.2,553.4 225.3,554.7 220.0,555.5 C214.7,556.3 209.0,558.8 200.0,557.0 C191.0,555.2 177.0,550.7 166.0,545.0 C155.0,539.3 144.8,530.0 134.0,523.0 C123.2,516.0 109.7,508.0 101.0,503.0 C92.3,498.0 87.3,499.8 82.0,493.0 C76.7,486.2 73.3,472.5 69.0,462.0 C64.7,451.5 59.5,440.3 56.0,430.0 C52.5,419.7 49.7,412.2 48.0,400.0 C46.3,387.8 45.8,370.0 46.0,357.0 C46.2,344.0 48.0,333.7 49.0,322.0 C50.0,310.3 50.7,298.8 52.0,287.0 C53.3,275.2 54.7,263.0 57.0,251.0 C59.3,239.0 62.8,226.8 66.0,215.0 C69.2,203.2 72.7,193.2 76.0,180.0 C79.3,166.8 82.8,147.0 86.0,136.0 C89.2,125.0 91.8,120.8 95.0,114.0 C98.2,107.2 100.8,100.7 105.0,95.0 C109.2,89.3 113.7,85.2 120.0,80.0 C126.3,74.8 132.7,68.8 143.0,64.0 C153.3,59.2 168.3,53.7 182.0,51.0 C195.7,48.3 214.3,48.0 225.0,48.0 C235.7,48.0 239.3,50.9 246.0,51.0Z" fill="none" stroke="#A87878" stroke-width="40" filter="url(#bl3)" opacity="0.55"/></g>
<path d="M246.1,174.1 C251.5,174.1 256.6,173.4 261.4,172.1 C266.2,170.8 271.6,169.2 274.8,166.3 C278.0,163.4 281.1,157.8 280.5,154.6 C279.9,151.3 273.6,149.4 271.0,146.8 C268.4,144.2 263.9,141.6 265.2,139.0 C266.5,136.4 276.1,134.1 278.6,131.2 C281.2,128.3 282.1,124.1 280.5,121.5 C278.9,118.9 271.3,118.2 269.1,115.6 C266.9,113.0 265.1,108.7 267.1,105.8 C269.1,102.9 279.0,101.6 281.0,98.0 C283.0,94.4 279.1,88.7 279.1,84.0 C279.1,79.3 277.8,72.3 281.0,70.0 C284.2,67.7 294.6,66.7 298.5,70.0 C302.4,73.3 301.6,84.0 304.3,90.0 C307.0,96.0 311.2,102.5 314.9,105.8 C318.6,109.1 323.3,111.8 326.4,109.8 C329.5,107.8 330.3,98.6 333.4,94.0 C336.5,89.4 341.1,81.0 345.0,82.0 C348.9,83.0 354.4,92.8 356.7,100.0 C359.0,107.2 357.2,118.8 358.8,125.3 C360.4,131.8 362.4,135.4 366.5,139.0 C370.6,142.6 379.6,141.9 383.7,146.8 C387.8,151.7 389.1,159.8 391.3,168.2 C393.5,176.6 394.8,186.8 397.0,197.5 C399.2,208.2 402.1,221.5 404.7,232.6 C407.2,243.7 410.1,253.4 412.3,263.8 C414.5,274.2 416.7,283.3 418.0,295.0 C419.3,306.7 418.6,323.8 419.9,334.0 C421.2,344.2 424.6,348.3 426.0,356.0 C427.4,363.7 428.0,372.7 428.0,380.0 C428.0,387.3 427.7,394.3 426.0,400.0 C424.3,405.7 421.7,410.7 418.0,414.0 C414.3,417.3 408.7,418.0 404.0,420.0 C399.3,422.0 391.7,423.7 390.0,426.0 C388.3,428.3 391.0,431.7 394.0,434.0 C397.0,436.3 404.7,437.7 408.0,440.0 C411.3,442.3 414.3,445.0 414.0,448.0 C413.7,451.0 410.0,455.3 406.0,458.0 C402.0,460.7 395.3,462.3 390.0,464.0 C384.7,465.7 376.0,465.7 374.0,468.0 C372.0,470.3 375.3,475.0 378.0,478.0 C380.7,481.0 388.7,482.7 390.0,486.0 C391.3,489.3 389.3,495.0 386.0,498.0 C382.7,501.0 375.7,503.0 370.0,504.0 C364.3,505.0 355.0,502.3 352.0,504.0 C349.0,505.7 353.3,510.7 352.0,514.0 C350.7,517.3 347.7,521.3 344.0,524.0 C340.3,526.7 334.7,530.3 330.0,530.0 C325.3,529.7 319.6,522.6 316.0,522.0 C312.4,521.4 313.9,531.1 308.2,526.1 C302.4,521.1 286.6,503.4 281.5,491.9 C276.4,480.3 275.4,465.4 277.6,456.8 C279.8,448.2 294.4,444.8 294.8,440.3 C295.2,435.8 285.1,432.7 280.0,430.0 C274.9,427.3 266.3,427.0 264.0,424.0 C261.7,421.0 263.1,416.3 266.0,412.0 C268.9,407.7 282.3,401.6 281.5,398.3 C280.7,395.1 269.8,393.5 261.4,392.5 C253.0,391.5 240.3,391.5 230.9,392.5 C221.5,393.5 208.3,393.3 205.1,398.3 C201.9,403.3 207.4,415.7 211.8,422.7 C216.2,429.7 230.1,434.8 231.8,440.3 C233.5,445.9 221.3,451.4 222.0,456.0 C222.7,460.6 233.7,463.7 236.0,468.0 C238.3,472.3 237.8,478.0 236.0,482.0 C234.2,486.0 226.9,485.7 225.1,491.9 C223.3,498.1 229.5,512.9 225.1,519.2 C220.7,525.6 207.9,530.0 198.4,530.0 C188.9,530.0 168.9,523.3 167.8,519.2 C166.7,515.1 188.8,510.2 191.7,505.6 C194.6,501.1 191.8,493.0 185.0,491.9 C178.2,490.8 159.0,499.4 150.6,498.8 C142.2,498.2 134.9,491.5 134.4,488.1 C133.9,484.7 146.7,482.4 147.8,478.3 C148.9,474.2 147.9,467.8 141.1,463.7 C134.2,459.6 113.5,459.6 106.7,453.9 C99.9,448.2 99.4,437.7 100.0,429.6 C100.6,421.5 109.9,410.4 110.5,405.2 C111.1,400.0 110.6,397.6 103.8,398.3 C97.0,399.0 74.4,412.0 69.5,409.1 C64.6,406.2 71.8,387.0 74.2,380.8 C76.6,374.6 80.0,378.2 83.8,372.0 C87.6,365.8 93.9,353.1 97.2,343.8 C100.5,334.5 102.0,326.8 103.8,316.4 C105.5,306.0 108.5,292.9 107.7,281.4 C106.9,269.9 101.3,258.8 99.1,247.2 C96.9,235.6 95.7,223.6 94.3,212.1 C92.9,200.6 89.1,185.0 90.5,178.0 C91.9,171.0 98.9,174.1 102.9,170.2 C106.9,166.3 112.7,159.5 114.3,154.6 C115.9,149.7 111.1,145.8 112.4,140.9 C113.7,136.0 120.7,131.2 122.0,125.3 C123.3,119.4 119.1,110.0 120.1,105.8 C121.1,101.6 124.6,98.7 127.8,100.0 C131.0,101.3 135.1,111.1 139.2,113.7 C143.3,116.3 148.7,116.2 152.5,115.6 C156.3,114.9 160.1,114.1 162.1,109.8 C164.1,105.5 163.2,96.0 164.6,90.0 C166.0,84.0 167.5,76.3 170.4,74.0 C173.3,71.7 179.2,72.7 182.1,76.0 C185.0,79.3 185.6,91.7 187.9,94.0 C190.2,96.3 193.8,93.7 195.7,90.0 C197.6,86.3 197.2,76.0 199.5,72.0 C201.8,68.0 205.6,66.0 209.2,66.0 C212.8,66.0 218.6,68.3 220.9,72.0 C223.2,75.7 223.5,83.7 222.8,88.0 C222.2,92.3 219.5,95.3 217.0,98.0 C214.5,100.7 209.1,101.6 207.9,103.9 C206.7,106.2 207.2,109.4 209.8,111.7 C212.4,114.0 221.6,115.5 223.2,117.5 C224.8,119.5 222.3,121.1 219.4,123.4 C216.5,125.7 207.3,128.6 206.0,131.2 C204.7,133.8 208.6,136.7 211.8,139.0 C215.0,141.3 223.5,142.9 225.1,144.8 C226.7,146.8 223.5,148.7 221.3,150.7 C219.1,152.7 212.8,154.0 211.8,156.6 C210.9,159.2 212.8,163.7 215.6,166.3 C218.4,168.9 223.8,170.8 228.9,172.1 C234.0,173.4 240.7,174.1 246.1,174.1Z" fill="#FBF0D9"/>
<g fill="none" stroke-linecap="round">
<path d="M120,200 C170,186 210,190 249,190 C290,190 330,186 380,200" stroke="#FFFCF4" stroke-width="6" opacity="0.45"/>
<path d="M130,186 C180,176 220,180 249,180 C280,180 320,176 370,186" stroke="#EDE0C4" stroke-width="1.2" opacity="0.7"/>
<path d="M120,212 C170,200 210,204 249,204 C290,204 330,200 380,212" stroke="#EFE2C8" stroke-width="1.2" opacity="0.6"/>
<path d="M205,182 C190,160 170,140 150,120 M185,186 C160,172 135,160 110,150 M295,182 C310,160 330,140 345,120 M315,186 C340,172 365,162 395,160" stroke="#EFE2C6" stroke-width="1.2" opacity="0.6"/>
<path d="M110,230 C120,280 115,330 100,380 M380,230 C390,280 395,330 398,380" stroke="#FFFBF0" stroke-width="5" opacity="0.4"/>
<path d="M150,450 C180,480 200,500 215,520 M340,450 C320,480 300,500 290,520" stroke="#EFE2C6" stroke-width="1.2" opacity="0.6"/>
</g>
<g stroke="#E9C3B1" fill="none" stroke-linecap="round" opacity="0.9">
<path d="M191.0,50.0 C190.7,53.3 189.7,63.0 189.0,70.0 C188.3,77.0 187.3,88.3 187.0,92.0" stroke-width="12"/>
<path d="M126.0,70.0 C128.3,73.0 135.0,81.0 140.0,88.0 C145.0,95.0 153.3,108.0 156.0,112.0" stroke-width="12"/>
<path d="M84.0,120.0 C87.3,120.5 98.0,121.8 104.0,123.0 C110.0,124.2 117.3,126.3 120.0,127.0" stroke-width="12"/>
<path d="M70.0,158.0 C73.3,157.8 84.3,157.3 90.0,157.0 C95.7,156.7 101.7,156.2 104.0,156.0" stroke-width="12"/>
<path d="M242.0,92.0 C239.7,91.7 232.7,89.3 228.0,90.0 C223.3,90.7 216.3,95.0 214.0,96.0" stroke-width="10"/>
<path d="M242.0,116.0 C239.2,115.7 230.7,113.7 225.0,114.0 C219.3,114.3 210.8,117.3 208.0,118.0" stroke-width="10"/>
<path d="M242.0,146.0 C239.3,145.7 231.0,143.7 226.0,144.0 C221.0,144.3 214.3,147.3 212.0,148.0" stroke-width="10"/>
<path d="M322.0,56.0 C321.3,58.3 319.3,65.7 318.0,70.0 C316.7,74.3 314.7,80.0 314.0,82.0" stroke-width="12"/>
<path d="M362.0,78.0 C360.7,81.7 356.3,92.7 354.0,100.0 C351.7,107.3 349.0,118.3 348.0,122.0" stroke-width="12"/>
<path d="M404.0,114.0 C401.3,116.0 393.3,123.2 388.0,126.0 C382.7,128.8 374.7,130.2 372.0,131.0" stroke-width="12"/>
<path d="M418.0,158.0 C415.7,159.2 408.3,163.3 404.0,165.0 C399.7,166.7 394.0,167.5 392.0,168.0" stroke-width="12"/>
<path d="M251.0,113.0 C253.3,112.8 259.8,111.2 265.0,112.0 C270.2,112.8 279.2,117.0 282.0,118.0" stroke-width="10"/>
<path d="M251.0,138.0 C253.8,137.7 262.2,135.3 268.0,136.0 C273.8,136.7 283.0,141.0 286.0,142.0" stroke-width="10"/>
<path d="M56.0,246.0 C59.0,247.3 68.7,251.3 74.0,254.0 C79.3,256.7 85.7,260.7 88.0,262.0" stroke-width="12"/>
<path d="M50.0,322.0 C53.3,322.3 63.3,323.3 70.0,324.0 C76.7,324.7 86.7,325.7 90.0,326.0" stroke-width="12"/>
<path d="M50.0,350.0 C52.0,350.7 58.0,352.7 62.0,354.0 C66.0,355.3 72.0,357.3 74.0,358.0" stroke-width="12"/>
<path d="M136.0,236.0 C133.0,238.7 123.3,243.7 118.0,252.0 C112.7,260.3 108.3,274.3 104.0,286.0 C99.7,297.7 94.0,316.0 92.0,322.0" stroke-width="26"/>
<path d="M52.0,417.0 C56.3,415.8 70.0,411.8 78.0,410.0 C86.0,408.2 96.3,406.7 100.0,406.0" stroke-width="12"/>
<path d="M80.0,470.0 C85.0,471.3 100.3,475.7 110.0,478.0 C119.7,480.3 133.3,483.0 138.0,484.0" stroke-width="12"/>
<path d="M118.0,520.0 C123.3,519.0 140.0,515.8 150.0,514.0 C160.0,512.2 173.3,509.8 178.0,509.0" stroke-width="12"/>
<path d="M246.0,470.0 C243.7,468.7 236.3,462.0 232.0,462.0 C227.7,462.0 222.0,468.7 220.0,470.0" stroke-width="10"/>
<path d="M246.0,500.0 C243.3,499.2 235.0,494.2 230.0,495.0 C225.0,495.8 218.3,503.3 216.0,505.0" stroke-width="10"/>
<path d="M196.0,410.0 C197.7,413.3 202.5,423.5 206.0,430.0 C209.5,436.5 215.2,445.8 217.0,449.0" stroke-width="10"/>
<path d="M434.0,426.0 C430.3,426.0 419.0,425.7 412.0,426.0 C405.0,426.3 395.3,427.7 392.0,428.0" stroke-width="22"/>
<path d="M410.0,478.0 C407.0,477.0 398.0,473.7 392.0,472.0 C386.0,470.3 377.0,468.7 374.0,468.0" stroke-width="22"/>
<path d="M380.0,516.0 C377.7,515.0 370.7,512.0 366.0,510.0 C361.3,508.0 354.3,505.0 352.0,504.0" stroke-width="22"/>
<path d="M328.0,550.0 C326.7,547.3 322.3,539.0 320.0,534.0 C317.7,529.0 315.0,522.3 314.0,520.0" stroke-width="20"/>
<path d="M253.0,470.0 C255.2,469.0 261.5,463.7 266.0,464.0 C270.5,464.3 277.7,470.7 280.0,472.0" stroke-width="10"/>
<path d="M253.0,505.0 C255.8,504.2 264.8,499.5 270.0,500.0 C275.2,500.5 281.7,506.7 284.0,508.0" stroke-width="10"/>
<path d="M300.0,410.0 C298.7,413.3 294.7,423.3 292.0,430.0 C289.3,436.7 285.3,446.7 284.0,450.0" stroke-width="10"/>
<path d="M440.0,232.0 C437.7,234.7 430.0,242.7 426.0,248.0 C422.0,253.3 417.7,261.3 416.0,264.0" stroke-width="12"/>
<path d="M444.0,351.0 C441.7,351.8 434.3,354.2 430.0,356.0 C425.7,357.8 420.0,361.0 418.0,362.0" stroke-width="12"/>
<path d="M364.0,256.0 C365.3,253.8 368.3,245.8 372.0,243.0 C375.7,240.2 382.2,237.5 386.0,239.0 C389.8,240.5 392.8,244.3 395.0,252.0 C397.2,259.7 398.0,273.7 399.0,285.0 C400.0,296.3 400.3,310.0 401.0,320.0 C401.7,330.0 402.7,340.8 403.0,345.0" stroke-width="26"/>
<path d="M364.0,262.0 C364.3,268.3 365.0,287.0 366.0,300.0 C367.0,313.0 369.3,333.3 370.0,340.0" stroke-width="12"/>
<path d="M440.0,300.0 C438.0,300.7 431.7,302.0 428.0,304.0 C424.3,306.0 419.7,310.7 418.0,312.0" stroke-width="14"/>
<path d="M201.0,408.0 C202.8,411.0 207.7,423.3 212.0,426.0 C216.3,428.7 224.5,424.3 227.0,424.0" stroke-width="10"/>
<path d="M206.0,439.0 C205.0,441.2 201.7,447.7 200.0,452.0 C198.3,456.3 196.7,462.8 196.0,465.0" stroke-width="10"/>
<path d="M227.0,470.0 C228.5,471.0 233.3,474.2 236.0,476.0 C238.7,477.8 241.8,480.2 243.0,481.0" stroke-width="10"/>
<path d="M217.0,517.0 C218.8,517.8 224.7,520.3 228.0,522.0 C231.3,523.7 235.5,526.2 237.0,527.0" stroke-width="10"/>
<path d="M279.0,403.0 C277.5,405.8 268.3,414.8 270.0,420.0 C271.7,425.2 285.8,431.7 289.0,434.0" stroke-width="10"/>
<path d="M263.0,455.0 C264.5,456.8 269.3,462.7 272.0,466.0 C274.7,469.3 277.8,473.5 279.0,475.0" stroke-width="10"/>
<path d="M268.0,517.0 C267.0,518.3 263.7,522.5 262.0,525.0 C260.3,527.5 258.7,530.8 258.0,532.0" stroke-width="10"/>
</g>
<g stroke="#74402E" stroke-width="2.1" fill="none" stroke-linecap="round">
<path d="M191.0,50.0 C190.7,53.3 189.7,63.0 189.0,70.0 C188.3,77.0 187.3,88.3 187.0,92.0"/>
<path d="M126.0,70.0 C128.3,73.0 135.0,81.0 140.0,88.0 C145.0,95.0 153.3,108.0 156.0,112.0"/>
<path d="M84.0,120.0 C87.3,120.5 98.0,121.8 104.0,123.0 C110.0,124.2 117.3,126.3 120.0,127.0"/>
<path d="M70.0,158.0 C73.3,157.8 84.3,157.3 90.0,157.0 C95.7,156.7 101.7,156.2 104.0,156.0"/>
<path d="M242.0,92.0 C239.7,91.7 232.7,89.3 228.0,90.0 C223.3,90.7 216.3,95.0 214.0,96.0"/>
<path d="M242.0,116.0 C239.2,115.7 230.7,113.7 225.0,114.0 C219.3,114.3 210.8,117.3 208.0,118.0"/>
<path d="M242.0,146.0 C239.3,145.7 231.0,143.7 226.0,144.0 C221.0,144.3 214.3,147.3 212.0,148.0"/>
<path d="M322.0,56.0 C321.3,58.3 319.3,65.7 318.0,70.0 C316.7,74.3 314.7,80.0 314.0,82.0"/>
<path d="M362.0,78.0 C360.7,81.7 356.3,92.7 354.0,100.0 C351.7,107.3 349.0,118.3 348.0,122.0"/>
<path d="M404.0,114.0 C401.3,116.0 393.3,123.2 388.0,126.0 C382.7,128.8 374.7,130.2 372.0,131.0"/>
<path d="M418.0,158.0 C415.7,159.2 408.3,163.3 404.0,165.0 C399.7,166.7 394.0,167.5 392.0,168.0"/>
<path d="M251.0,113.0 C253.3,112.8 259.8,111.2 265.0,112.0 C270.2,112.8 279.2,117.0 282.0,118.0"/>
<path d="M251.0,138.0 C253.8,137.7 262.2,135.3 268.0,136.0 C273.8,136.7 283.0,141.0 286.0,142.0"/>
<path d="M56.0,246.0 C59.0,247.3 68.7,251.3 74.0,254.0 C79.3,256.7 85.7,260.7 88.0,262.0"/>
<path d="M50.0,322.0 C53.3,322.3 63.3,323.3 70.0,324.0 C76.7,324.7 86.7,325.7 90.0,326.0"/>
<path d="M50.0,350.0 C52.0,350.7 58.0,352.7 62.0,354.0 C66.0,355.3 72.0,357.3 74.0,358.0"/>
<path d="M136.0,236.0 C133.0,238.7 123.3,243.7 118.0,252.0 C112.7,260.3 108.3,274.3 104.0,286.0 C99.7,297.7 94.0,316.0 92.0,322.0"/>
<path d="M52.0,417.0 C56.3,415.8 70.0,411.8 78.0,410.0 C86.0,408.2 96.3,406.7 100.0,406.0"/>
<path d="M80.0,470.0 C85.0,471.3 100.3,475.7 110.0,478.0 C119.7,480.3 133.3,483.0 138.0,484.0"/>
<path d="M118.0,520.0 C123.3,519.0 140.0,515.8 150.0,514.0 C160.0,512.2 173.3,509.8 178.0,509.0"/>
<path d="M246.0,470.0 C243.7,468.7 236.3,462.0 232.0,462.0 C227.7,462.0 222.0,468.7 220.0,470.0"/>
<path d="M246.0,500.0 C243.3,499.2 235.0,494.2 230.0,495.0 C225.0,495.8 218.3,503.3 216.0,505.0"/>
<path d="M196.0,410.0 C197.7,413.3 202.5,423.5 206.0,430.0 C209.5,436.5 215.2,445.8 217.0,449.0"/>
<path d="M434.0,426.0 C430.3,426.0 419.0,425.7 412.0,426.0 C405.0,426.3 395.3,427.7 392.0,428.0"/>
<path d="M410.0,478.0 C407.0,477.0 398.0,473.7 392.0,472.0 C386.0,470.3 377.0,468.7 374.0,468.0"/>
<path d="M380.0,516.0 C377.7,515.0 370.7,512.0 366.0,510.0 C361.3,508.0 354.3,505.0 352.0,504.0"/>
<path d="M328.0,550.0 C326.7,547.3 322.3,539.0 320.0,534.0 C317.7,529.0 315.0,522.3 314.0,520.0"/>
<path d="M253.0,470.0 C255.2,469.0 261.5,463.7 266.0,464.0 C270.5,464.3 277.7,470.7 280.0,472.0"/>
<path d="M253.0,505.0 C255.8,504.2 264.8,499.5 270.0,500.0 C275.2,500.5 281.7,506.7 284.0,508.0"/>
<path d="M300.0,410.0 C298.7,413.3 294.7,423.3 292.0,430.0 C289.3,436.7 285.3,446.7 284.0,450.0"/>
<path d="M440.0,232.0 C437.7,234.7 430.0,242.7 426.0,248.0 C422.0,253.3 417.7,261.3 416.0,264.0"/>
<path d="M444.0,351.0 C441.7,351.8 434.3,354.2 430.0,356.0 C425.7,357.8 420.0,361.0 418.0,362.0"/>
<path d="M364.0,256.0 C365.3,253.8 368.3,245.8 372.0,243.0 C375.7,240.2 382.2,237.5 386.0,239.0 C389.8,240.5 392.8,244.3 395.0,252.0 C397.2,259.7 398.0,273.7 399.0,285.0 C400.0,296.3 400.3,310.0 401.0,320.0 C401.7,330.0 402.7,340.8 403.0,345.0"/>
<path d="M364.0,262.0 C364.3,268.3 365.0,287.0 366.0,300.0 C367.0,313.0 369.3,333.3 370.0,340.0"/>
<path d="M440.0,300.0 C438.0,300.7 431.7,302.0 428.0,304.0 C424.3,306.0 419.7,310.7 418.0,312.0"/>
<path d="M201.0,408.0 C202.8,411.0 207.7,423.3 212.0,426.0 C216.3,428.7 224.5,424.3 227.0,424.0"/>
<path d="M206.0,439.0 C205.0,441.2 201.7,447.7 200.0,452.0 C198.3,456.3 196.7,462.8 196.0,465.0"/>
<path d="M227.0,470.0 C228.5,471.0 233.3,474.2 236.0,476.0 C238.7,477.8 241.8,480.2 243.0,481.0"/>
<path d="M217.0,517.0 C218.8,517.8 224.7,520.3 228.0,522.0 C231.3,523.7 235.5,526.2 237.0,527.0"/>
<path d="M279.0,403.0 C277.5,405.8 268.3,414.8 270.0,420.0 C271.7,425.2 285.8,431.7 289.0,434.0"/>
<path d="M263.0,455.0 C264.5,456.8 269.3,462.7 272.0,466.0 C274.7,469.3 277.8,473.5 279.0,475.0"/>
<path d="M268.0,517.0 C267.0,518.3 263.7,522.5 262.0,525.0 C260.3,527.5 258.7,530.8 258.0,532.0"/>
</g>
</g>

<!-- midline top -->
<path d="M235,46 C240,50 242,56 242.5,64 L242.5,152 L251,152 L251,64 C251.5,56 254,50 259,46 Z" fill="#D4C6C4"/>
<path d="M235,46 C240,49 242,54 242.5,62 L242.5,152 M259,46 C254,49 251.5,54 251,62 L251,152" stroke="#6A3A42" stroke-width="2" fill="none"/>
<path d="M236,45 C241,50 245,58 246.8,70 C248.5,58 252,50 258,45 Z" fill="#FBF6F2"/>
<path d="M246.8,66 L246.8,150" stroke="#F4EEEE" stroke-width="1.5"/>
<!-- red spot -->
<path d="M241,150 L253,150 C256,152 258,158 258,164 C257,170 252,173 248,173 C244,173 240,170 240,164 C240,158 240,153 241,150 Z" fill="#C8503E"/>
<path d="M243,160 C245,156 251,156 254,161 C255,166 251,170 248,170 C245,170 242,166 243,160 Z" fill="#9A2A22"/>
<!-- caudate heads -->
<defs>
<linearGradient id="cdL" x1="0" y1="0" x2="1" y2="0.3"><stop offset="0" stop-color="#E2B09A"/><stop offset="1" stop-color="#CE8C70"/></linearGradient>
<linearGradient id="cdR" x1="1" y1="0" x2="0" y2="0.3"><stop offset="0" stop-color="#E2B09A"/><stop offset="1" stop-color="#CE8C70"/></linearGradient>
</defs>
<path d="M201,199 C194,206 196,216 201,228 C208,246 220,262 238,279 L242,277 C240,250 240,230 241,214 C230,206 214,202 201,199 Z" fill="url(#cdL)"/>
<path d="M205,214 L236,226 M206,226 L236,238 M210,238 L236,250 M216,250 L237,261 M224,261 L238,270" stroke="#F0CCB8" stroke-width="1.6" opacity="0.8"/>
<path d="M200,198 C214,204 230,212 237,224 C240,236 240,258 240,279" stroke="#8A4428" stroke-width="3.2" fill="none" stroke-linecap="round"/>
<path d="M304,197 C312,204 315,212 312,222 C305,240 290,258 260,276 L256,277 C256,250 257,230 257,214 C270,207 290,202 304,197 Z" fill="url(#cdR)"/>
<path d="M309,212 L262,226 M304,226 L262,238 M296,240 L262,250 M286,252 L261,261 M274,262 L260,270" stroke="#F0CCB8" stroke-width="1.6" opacity="0.8"/>
<path d="M305,196 C290,202 272,212 261,224 C257,236 257,258 257,279" stroke="#8A4428" stroke-width="3.2" fill="none" stroke-linecap="round"/>
<path d="M245.5,214 L247,280 M252.5,214 L250.5,280" stroke="#B07860" stroke-width="1.2"/>
<!-- putamen / GP -->
<path d="M165,230 C172,229 178,234 179,243 C174,262 162,290 148,318 C140,332 132,343 122,345 C116,343 115,335 118,325 C126,300 140,268 156,240 C158,234 161,231 165,230 Z" fill="#D38E6C"/>
<path d="M170,240 C160,262 146,292 128,332 M174,250 C164,272 150,300 134,336" stroke="#E8B090" stroke-width="1.5" fill="none" opacity="0.8"/>
<path d="M184,251 C190,256 190,264 185,276 C176,296 164,318 152,332 C146,334 144,328 147,318 C156,298 168,272 178,256 Z" fill="#E7B49C"/>
<path d="M182,262 C172,284 160,306 150,326" stroke="#F6DCCB" stroke-width="1.4" fill="none"/>
<path d="M320,236 C328,233 334,236 338,246 C348,270 360,300 372,338 C373,348 368,352 362,348 C350,320 336,290 322,258 C318,250 317,241 320,236 Z" fill="#D38E6C"/>
<path d="M326,244 C338,270 350,300 364,342 M322,252 C334,278 346,306 358,344" stroke="#E8B090" stroke-width="1.5" fill="none" opacity="0.8"/>
<path d="M311,262 C318,259 322,262 326,272 C334,292 342,315 350,334 C350,342 344,344 340,338 C330,318 320,296 312,276 C309,270 309,265 311,262 Z" fill="#E7B49C"/>
<path d="M316,270 C326,292 336,314 344,334" stroke="#F6DCCB" stroke-width="1.4" fill="none"/>
<!-- thalami -->
<path d="M248,280 C248,295 247,306 244,316 C240,328 239,338 240,346 C232,352 222,358 212,361 C202,363 190,363 183,359 C184,340 194,318 206,302 C218,290 234,282 248,280 Z" fill="#EBBFA7"/>
<path d="M250,280 C250,295 251,306 254,316 C258,328 259,338 258,346 C266,352 278,358 290,361 C302,363 314,363 321,359 C318,340 308,318 294,302 C280,290 264,282 250,280 Z" fill="#EBBFA7"/>
<path d="M249,286 L249,314" stroke="#C89A84" stroke-width="1"/>
<path d="M242,280 L256,280 C256,286 252,289 249,289 C246,289 242,286 242,280 Z" fill="#5A2A20"/>
<path d="M238,292 C222,310 208,332 196,356 M260,292 C276,310 290,332 302,356" stroke="#F8E2D2" stroke-width="1.6" fill="none"/>
<path d="M248.5,314 C256,325 258,338 254,345 C250,348 246,348 243,345 C239,338 241,325 248.5,314 Z" fill="#9E5E3A" stroke="#F4E4D8" stroke-width="1.2"/>
<!-- splenium / tectum -->
<path d="M196,368 C215,372 232,378 249,380 C266,378 284,372 304,368 C300,384 280,398 249,410 C218,398 200,384 196,368 Z" fill="#D9A088"/>
<path d="M199,380 C220,392 236,402 249,409 C262,402 278,392 301,380" stroke="#8A4A30" stroke-width="2" fill="none"/>
<path d="M212,378 C228,386 240,392 249,394 C258,392 270,386 288,378" stroke="#C07E60" stroke-width="1.5" fill="none"/>
<!-- blue -->
<path d="M220,360 C226,350 234,344 240,344 C246,350 252,350 258,344 C266,344 274,350 278,360 C270,372 260,384 249,388 C238,384 228,372 220,360 Z" fill="#9A90C4"/>
<path d="M222,358 C228,350 234,346 239,346 L244,372 C236,370 228,364 222,358 Z M276,358 C270,350 264,346 259,346 L254,372 C262,370 270,364 276,358 Z" fill="#5A5AA0"/>
<path d="M242,348 C247,356 251,356 256,348 C257,360 253,368 249,368 C245,368 241,360 242,348 Z" fill="#EEE6F0"/>
<ellipse cx="249" cy="376" rx="7" ry="5" fill="#4A4898"/>
<path d="M226,362 C232,370 240,378 249,384 C258,378 266,370 272,362" stroke="#D8B8C0" stroke-width="2" fill="none" opacity="0.7"/>
<!-- posterior horns -->
<path d="M133,358 C140,356 148,360 152,372 C158,392 164,414 169,440 C158,420 146,396 138,378 C134,370 131,362 133,358 Z" fill="#EBC2AE"/>
<path d="M140,360 C150,357 165,362 178,372 C182,378 178,384 175,392 C172,408 170,424 169,440 C164,420 156,396 150,382 C146,372 142,366 140,360 Z" fill="#C27E5E"/>
<path d="M147,364 C160,362 178,366 193,374 C182,378 170,378 162,376 C154,372 150,368 147,364 Z" fill="#F8ECDC" stroke="#7E4428" stroke-width="1.6"/>
<path d="M172,386 C170,405 169,422 169,440" stroke="#8E5034" stroke-width="1.5" fill="none"/>
<path d="M366,358 C359,356 351,360 347,372 C341,392 335,412 331,432 C341,414 353,396 361,378 C365,370 368,362 366,358 Z" fill="#EBC2AE"/>
<path d="M359,360 C349,357 334,362 321,372 C317,378 321,384 324,392 C327,406 329,420 331,432 C335,414 343,396 349,382 C353,372 357,366 359,360 Z" fill="#C27E5E"/>
<path d="M352,364 C339,362 321,366 306,374 C317,378 329,378 337,376 C345,372 349,368 352,364 Z" fill="#F8ECDC" stroke="#7E4428" stroke-width="1.6"/>
<path d="M327,386 C329,402 330,418 331,432" stroke="#8E5034" stroke-width="1.5" fill="none"/>
<!-- midline bottom -->
<path d="M232,420 L249,410 L266,420" stroke="#F4ECEA" stroke-width="2" fill="none"/>
<rect x="245.5" y="410" width="7" height="143" fill="#E8DEDC"/>
<path d="M245.5,410 L245.5,553 M252.5,410 L252.5,553" stroke="#6A3A42" stroke-width="1.8"/>
<rect x="246" y="417" width="6" height="24" rx="3" fill="#3A4670"/>
<!-- occipital sinus -->
<path d="M220,558 C232,556 240,548 244,540 L254,540 C258,550 266,557 280,560 L272,582 L224,582 Z" fill="#F6F0F0"/>
<path d="M228,575 C232,566 239,557 245,556 C252,557 259,566 259,575 C250,577 238,577 228,575 Z" fill="#1E2A5C"/>
<path d="M236,571 C240,566 246,563 254,567 C250,569 242,570 236,571 Z" fill="#8090C0"/>
<!-- small skull -->
<defs>
<filter id="bl1" x="-20%" y="-20%" width="140%" height="140%"><feGaussianBlur stdDeviation="1"/></filter>
<filter id="bl2" x="-50%" y="-50%" width="200%" height="200%"><feGaussianBlur stdDeviation="2.5"/></filter>
<filter id="bl3" x="-50%" y="-50%" width="200%" height="200%"><feGaussianBlur stdDeviation="4"/></filter>
<radialGradient id="crg" cx="0.28" cy="0.22" r="0.75">
<stop offset="0" stop-color="#F8E2C8"/><stop offset="0.3" stop-color="#EBC29C"/><stop offset="0.75" stop-color="#D49E74"/><stop offset="1" stop-color="#B88058"/>
</radialGradient>
<clipPath id="skclip"><path id="skp" d="M549,451 C547,430 556,410 572,400 C590,389 615,386 640,392 C662,398 682,412 692,430 C696,440 697,452 698,460 L702,472 C703,476 699,480 695,481 C696,488 697,494 697,500 C697,512 696,522 695,532 C694,538 692,541 688,542 C672,540 652,534 639,527 C634,522 632,518 631,512 C630,504 629,496 629,490 C624,491 618,494 612,497 C606,502 603,502 600,498 C590,494 575,486 560,478 C552,470 549,460 549,451 Z"/></clipPath>
</defs>
<path d="M549,451 C547,430 556,410 572,400 C590,389 615,386 640,392 C662,398 682,412 692,430 C696,440 697,452 698,460 L702,472 C703,476 699,480 695,481 C696,488 697,494 697,500 C697,512 696,522 695,532 C694,538 692,541 688,542 C672,540 652,534 639,527 C634,522 632,518 631,512 C630,504 629,496 629,490 C624,491 618,494 612,497 C606,502 603,502 600,498 C590,494 575,486 560,478 C552,470 549,460 549,451 Z" fill="url(#crg)"/>
<g clip-path="url(#skclip)">
<g filter="url(#bl2)">
<path d="M548,460 C570,472 600,480 630,478 C660,476 690,472 700,480 L700,560 L540,560 Z" fill="#B97E56" opacity="0.6"/>
<path d="M640,432 C660,440 685,440 700,448 L700,470 C690,468 670,470 645,474 Z" fill="#C48A62" opacity="0.55"/>
<ellipse cx="682" cy="467" rx="12" ry="13" fill="#74482C" opacity="0.9"/>
<path d="M604,478 C622,474 645,474 668,480 L668,484 C645,482 622,484 606,490 Z" fill="#E0B890" opacity="0.8"/>
<path d="M606,488 C622,484 645,484 668,488 L664,498 C645,494 624,496 610,500 Z" fill="#8A5A3C" opacity="0.85"/>
<path d="M636,500 C642,510 646,522 650,530" stroke="#9A6A48" stroke-width="3" fill="none"/>
<path d="M640,527 C655,532 675,536 692,540" stroke="#8A5A3A" stroke-width="3" fill="none"/>
<ellipse cx="606" cy="497" rx="5" ry="5" fill="#7A4A2A"/>
<ellipse cx="588" cy="420" rx="14" ry="10" fill="#FFF0DC" opacity="0.85"/>
<ellipse cx="640" cy="410" rx="20" ry="10" fill="#E8C098" opacity="0.5"/>
</g>
<path d="M657,504 C668,502 684,502 697,504 L697,517 C684,519 668,519 657,517 Z" fill="#EED8B4" opacity="0.85" filter="url(#bl1)"/>
<path d="M663,504 V517 M669,503 V518 M675,503 V518 M681,503 V518 M687,503 V518 M692,504 V517" stroke="#B08060" stroke-width="0.9" opacity="0.55"/>
<path d="M656,510.5 C668,509 684,509 697,510" stroke="#A07050" stroke-width="1" opacity="0.6"/>
<ellipse cx="625" cy="491" rx="3.5" ry="3" fill="#5A3A20"/>
<path d="M648,392 C652,410 650,430 655,450" stroke="#C89A74" stroke-width="1" fill="none" opacity="0.8"/>
<path d="M560,440 C575,432 600,428 625,432" stroke="#C89670" stroke-width="1" fill="none" opacity="0.6"/>
</g>
<path d="M549,451 C547,430 556,410 572,400 C590,389 615,386 640,392 C662,398 682,412 692,430 C696,440 697,452 698,460 L702,472 C703,476 699,480 695,481 C696,488 697,494 697,500 C697,512 696,522 695,532 C694,538 692,541 688,542 C672,540 652,534 639,527 C634,522 632,518 631,512 C630,504 629,496 629,490 C624,491 618,494 612,497 C606,502 603,502 600,498 C590,494 575,486 560,478 C552,470 549,460 549,451 Z" fill="none" stroke="#9A6A48" stroke-width="0.8" opacity="0.7"/>
<path d="M532,485 L714,428" stroke="#fff" stroke-width="5.5" opacity="0.55"/>
<path d="M532,485 L714,428" stroke="#111" stroke-width="3"/>
<!-- ADAM logo -->
<g fill="#3A8E68">
<path d="M636,589 C640,587 645,590 645,594 C649,596 648,602 644,603 C646,608 641,612 636,610 C632,613 626,611 626,607 C621,605 621,599 625,597 C623,592 630,587 636,589 Z"/>
</g>
<path d="M628,598 C632,600 636,602 640,606 M634,592 C634,598 635,604 636,609 M640,594 C637,598 632,603 628,606" stroke="#8FC8AC" stroke-width="1" fill="none" opacity="0.9"/>
<path d="M643,594 C648,589 654,590 655,597" stroke="#3A8E68" stroke-width="1.3" fill="none"/>
<g font-family="Liberation Serif, serif" fill="#111" stroke="#fff" stroke-width="0.5">
<text x="645" y="613" font-size="44" textLength="26" lengthAdjust="spacingAndGlyphs">A</text>
<text x="669" y="613" font-size="30">.</text>
<text x="675" y="613" font-size="33" textLength="23" lengthAdjust="spacingAndGlyphs">D</text>
<text x="696" y="613" font-size="30">.</text>
<text x="699.5" y="613" font-size="33" textLength="23" lengthAdjust="spacingAndGlyphs">A</text>
<text x="721" y="613" font-size="30">.</text>
<text x="724" y="613" font-size="33" textLength="40" lengthAdjust="spacingAndGlyphs">M</text>
<text x="765" y="613" font-size="30">.</text>
</g>

<g font-family="Liberation Sans, sans-serif" font-size="27" fill="#1a1a1a" stroke="#1a1a1a" stroke-width="0.5">
<text transform="translate(517.5,63.5) scale(1.15,1)">Materia blanca</text>
<text transform="translate(569.5,247) scale(1.155,1)">Materia gris</text>
</g>
<g stroke="#222" stroke-width="2" fill="none">
<polyline points="504,54 455.5,54 320.5,172"/>
<polyline points="557,235.6 519.3,235.6 404,311.5"/>
</g>
</g>
</svg>
</body></html>
